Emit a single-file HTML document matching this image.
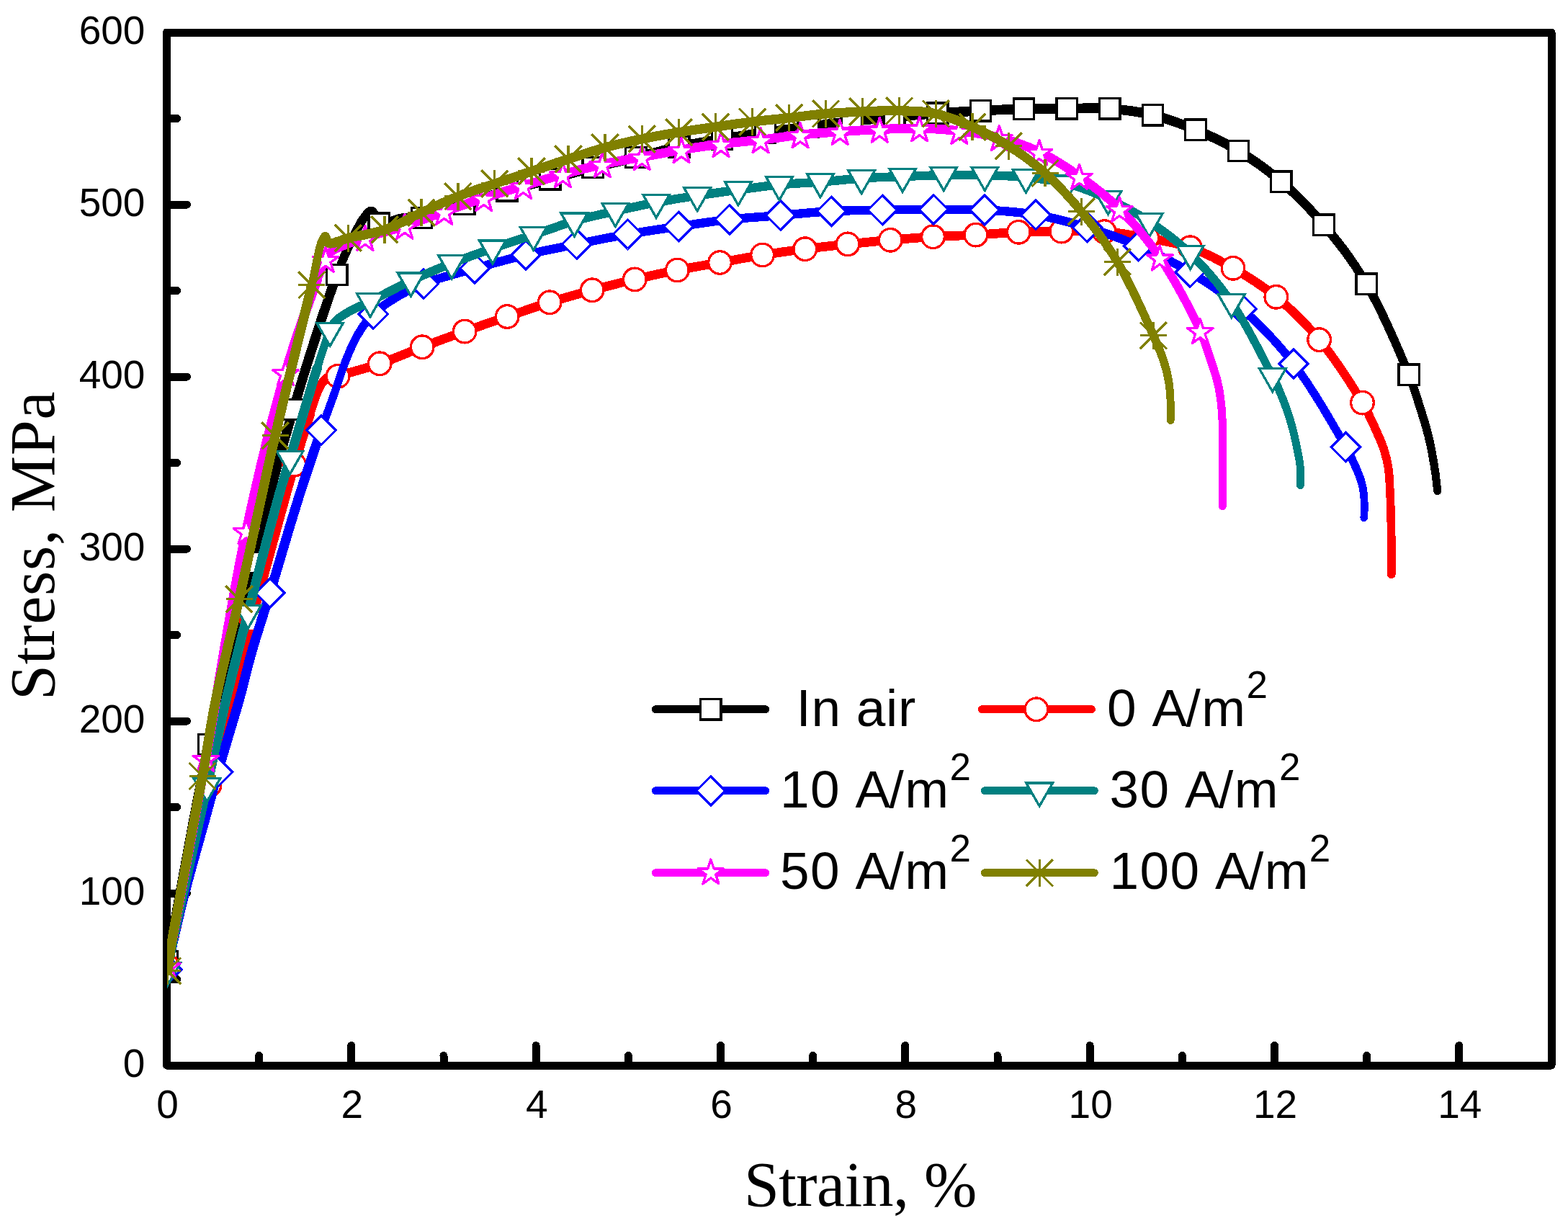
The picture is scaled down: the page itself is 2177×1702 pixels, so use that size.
<!DOCTYPE html>
<html lang="en">
<head>
<meta charset="utf-8">
<title>Stress-strain curves</title>
<style>
html,body{margin:0;padding:0;background:#fff;}
body{width:2177px;height:1702px;overflow:hidden;}
svg{display:block;}
.tk{font-family:"Liberation Sans",sans-serif;font-size:55px;fill:#000;}
.ax{font-family:"Liberation Serif",serif;font-size:88px;fill:#000;}
.axx{letter-spacing:-0.5px;}
.axy{letter-spacing:0.8px;}
.lg{font-family:"Liberation Sans",sans-serif;font-size:73px;fill:#000;letter-spacing:1.35px;}
.sp{font-size:53px;}
</style>
</head>
<body>
<svg width="2177" height="1702" viewBox="0 0 2177 1702" role="img" aria-label="Stress-strain curves">
<rect width="2177" height="1702" fill="#fff"/>
<g fill="none" stroke="#000" stroke-width="11" stroke-linejoin="round" stroke-linecap="round" shape-rendering="crispEdges">
<rect x="231.5" y="45" width="1922.5" height="1434"/>
<path d="M231.5 1359.5h14M231.5 1240h28M231.5 1120.5h14M231.5 1001h28M231.5 881.5h14M231.5 762h28M231.5 642.5h14M231.5 523h28M231.5 403.5h14M231.5 284h28M231.5 164.5h14M359.7 1479v-13.5M487.8 1479v-27.5M616 1479v-13.5M744.2 1479v-27.5M872.3 1479v-13.5M1000.5 1479v-27.5M1128.7 1479v-13.5M1256.8 1479v-27.5M1385 1479v-13.5M1513.2 1479v-27.5M1641.3 1479v-13.5M1769.5 1479v-27.5M1897.7 1479v-13.5M2025.8 1479v-27.5"/>
</g>
<g class="tk" text-anchor="end">
<text x="201.4" y="1495.4">0</text>
<text x="201.4" y="1255.6">100</text>
<text x="201.4" y="1016.6">200</text>
<text x="201.4" y="777.6">300</text>
<text x="201.4" y="538.6">400</text>
<text x="201.4" y="299.6">500</text>
<text x="201.4" y="60.6">600</text>
</g>
<g class="tk" text-anchor="middle">
<text x="232.5" y="1551.8">0</text>
<text x="488.8" y="1551.8">2</text>
<text x="745.2" y="1551.8">4</text>
<text x="1001.5" y="1551.8">6</text>
<text x="1257.8" y="1551.8">8</text>
<text x="1514.2" y="1551.8">10</text>
<text x="1770.5" y="1551.8">12</text>
<text x="2026.8" y="1551.8">14</text>
</g>
<text class="ax axx" text-anchor="middle" x="1194.4" y="1673.9">Strain, %</text>
<text class="ax axy" text-anchor="middle" transform="translate(75.2 757.3) rotate(-90)">Stress, MPa</text>
<svg x="232" y="45" width="1922.5" height="1434" viewBox="232 45 1922.5 1434" overflow="hidden">
<g stroke-linejoin="round" stroke-linecap="round" shape-rendering="crispEdges">
<g fill="none" stroke="#000000" stroke-width="10.9">
<path d="M232.5 1334.7L239.6 1296.9L246.6 1258.9L253.6 1220.7L260.7 1182.6L267.7 1144.7L274.9 1107.2L282.3 1070.2L289.8 1033.9L296.9 1001L304.2 968.5L311.6 936.4L319 904.6L326.6 873.1L334.2 842.1L341.8 811.4L349.5 781L356.5 753.4L363.6 726.1L370.7 699.2L377.8 672.5L385 646.2L392.2 620L399.7 594.1L407.2 568.4L414.7 543.6L422.5 517.9L430.6 492.1L438.7 466.7L446.6 442.3L454.3 419.5L461.4 399L467.8 381.4L470.9 373.2L473.9 365.8L476.7 358.9L479.5 352.5L482.2 346.5L484.8 340.8L487.4 335.4L490 330L491.9 326.1L493.8 322.2L495.7 318.5L497.6 315L499.4 311.6L501.3 308.5L503.1 305.6L505 303L506.3 301.3L507.6 299.7L508.9 298L510.3 296.6L511.6 295.3L512.9 294.3L514.1 293.6L515.2 293.4L516 293.5L516.8 293.9L517.5 294.5L518.3 295.3L519 296.2L519.7 297.1L520.3 298.1L521 299L521.8 300.3L522.5 301.9L523.1 303.6L523.7 305.4L524.4 307.1L525 308.6L525.8 309.8L526.7 310.7L527.4 311.1L528.1 311.3L528.9 311.4L529.7 311.4L530.5 311.4L531.3 311.3L532.1 311.1L533 311L534.1 310.8L535.3 310.5L536.4 310.1L537.6 309.7L538.9 309.2L540.1 308.7L541.4 308.2L542.7 307.8L544.3 307.3L545.8 306.7L547.4 306.1L549.1 305.5L550.8 304.9L552.6 304.4L554.5 303.9L556.5 303.5L559.6 303.1L563 303L566.6 303L570.3 303.1L574.3 303.2L578.3 303.1L582.5 302.8L586.8 302.2L593.2 300.8L600.1 298.8L607.3 296.4L614.7 293.8L622.3 291L629.9 288.2L637.5 285.5L644.9 283L652.2 280.7L659.6 278.4L667 276.1L674.3 273.8L681.7 271.5L689.1 269.3L696.5 267.1L703.9 265L711.3 262.9L718.8 260.9L726.2 258.9L733.7 256.9L741.2 254.9L748.6 253L756.1 251L763.5 249L770.8 247L778.1 245L785.4 242.9L792.6 240.9L799.9 238.9L807.2 236.9L814.5 234.9L821.8 233L829.3 231.1L836.7 229.3L844.3 227.6L851.8 225.9L859.3 224.2L866.9 222.4L874.4 220.7L881.9 218.9L889.4 217L896.8 215.1L904.3 213.2L911.8 211.3L919.2 209.3L926.7 207.5L934.2 205.7L941.7 204L949.3 202.4L956.8 200.9L964.5 199.5L972.1 198.1L979.7 196.8L987.3 195.5L994.9 194.3L1002.5 193L1010 191.8L1017.4 190.6L1024.9 189.4L1032.3 188.3L1039.8 187.2L1047.2 186.1L1054.6 185.1L1062.1 184L1069.5 182.9L1077 181.9L1084.4 180.9L1091.9 179.9L1099.3 178.9L1106.8 177.9L1114.2 177L1121.7 176L1129.1 175L1136.6 174.1L1144 173.1L1151.5 172.1L1158.9 171.2L1166.4 170.3L1173.8 169.4L1181.3 168.5L1188.7 167.7L1196.2 166.9L1203.6 166.1L1211.1 165.4L1218.5 164.6L1226 163.9L1233.4 163.2L1240.9 162.5L1248.3 161.8L1255.8 161.1L1263.2 160.4L1270.7 159.7L1278.1 159.1L1285.6 158.5L1293 157.9L1300.5 157.3L1307.9 156.8L1315.4 156.3L1322.8 155.8L1330.3 155.4L1337.7 155L1345.2 154.6L1352.6 154.2L1360.1 153.8L1367.5 153.4L1375 153.1L1382.4 152.7L1389.9 152.4L1397.3 152L1404.8 151.8L1412.2 151.5L1419.7 151.3L1427.1 151.1L1434.6 151L1442 150.9L1449.5 150.9L1456.9 150.9L1464.4 150.8L1471.8 150.8L1479.3 150.8L1486.8 150.7L1494.2 150.6L1501.7 150.4L1509.1 150.2L1516.6 150.2L1524 150.2L1531.5 150.4L1538.9 150.8L1546.4 151.4L1553.9 152.1L1561.3 152.9L1568.8 153.8L1576.3 154.9L1583.7 156.2L1591.1 157.7L1598.5 159.3L1606 161.2L1613.5 163.3L1621 165.6L1628.5 168.1L1635.9 170.8L1643.3 173.5L1650.7 176.4L1658.1 179.4L1665.6 182.5L1673.2 185.8L1680.7 189.2L1688.2 192.7L1695.6 196.3L1703 200.2L1710.4 204.2L1717.7 208.4L1725.3 213L1732.9 217.9L1740.5 222.9L1747.9 228.1L1755.4 233.5L1762.8 239.2L1770.1 245L1777.3 251L1785 257.7L1792.6 264.6L1800.2 271.8L1807.7 279.2L1815.1 286.8L1822.5 294.7L1829.7 302.7L1836.9 311L1844.7 320.3L1852.4 329.7L1860 339.4L1867.6 349.4L1875 359.7L1882.3 370.4L1889.5 381.5L1896.5 393L1904.8 407.8L1913.2 424L1921.6 441.2L1929.7 458.7L1937.4 475.9L1944.5 492.3L1950.8 507.3L1956.1 520.2L1958.6 526.5L1960.7 532.3L1962.6 537.7L1964.3 542.8L1965.9 547.7L1967.4 552.5L1969 557.5L1970.6 562.7L1972.3 568L1974 573.3L1975.6 578.6L1977.3 583.9L1978.8 589.2L1980.4 594.5L1981.8 599.9L1983.2 605.3L1984.5 610.9L1985.8 616.6L1987 622.4L1988.1 628.2L1989.1 634L1990.1 639.6L1991.1 645.1L1991.9 650.3L1992.5 654.3L1993.1 658.2L1993.5 662L1994 665.7L1994.4 669.4L1994.8 673L1995.2 676.7L1995.7 680.4"/>
<path transform="translate(0 1.4)" d="M232.5 1334.7L239.6 1296.9L246.6 1258.9L253.6 1220.7L260.7 1182.6L267.7 1144.7L274.9 1107.2L282.3 1070.2L289.8 1033.9L296.9 1001L304.2 968.5L311.6 936.4L319 904.6L326.6 873.1L334.2 842.1L341.8 811.4L349.5 781L356.5 753.4L363.6 726.1L370.7 699.2L377.8 672.5L385 646.2L392.2 620L399.7 594.1L407.2 568.4L414.7 543.6L422.5 517.9L430.6 492.1L438.7 466.7L446.6 442.3L454.3 419.5L461.4 399L467.8 381.4L470.9 373.2L473.9 365.8L476.7 358.9L479.5 352.5L482.2 346.5L484.8 340.8L487.4 335.4L490 330L491.9 326.1L493.8 322.2L495.7 318.5L497.6 315L499.4 311.6L501.3 308.5L503.1 305.6L505 303L506.3 301.3L507.6 299.7L508.9 298L510.3 296.6L511.6 295.3L512.9 294.3L514.1 293.6L515.2 293.4L516 293.5L516.8 293.9L517.5 294.5L518.3 295.3L519 296.2L519.7 297.1L520.3 298.1L521 299L521.8 300.3L522.5 301.9L523.1 303.6L523.7 305.4L524.4 307.1L525 308.6L525.8 309.8L526.7 310.7L527.4 311.1L528.1 311.3L528.9 311.4L529.7 311.4L530.5 311.4L531.3 311.3L532.1 311.1L533 311L534.1 310.8L535.3 310.5L536.4 310.1L537.6 309.7L538.9 309.2L540.1 308.7L541.4 308.2L542.7 307.8L544.3 307.3L545.8 306.7L547.4 306.1L549.1 305.5L550.8 304.9L552.6 304.4L554.5 303.9L556.5 303.5L559.6 303.1L563 303L566.6 303L570.3 303.1L574.3 303.2L578.3 303.1L582.5 302.8L586.8 302.2L593.2 300.8L600.1 298.8L607.3 296.4L614.7 293.8L622.3 291L629.9 288.2L637.5 285.5L644.9 283L652.2 280.7L659.6 278.4L667 276.1L674.3 273.8L681.7 271.5L689.1 269.3L696.5 267.1L703.9 265L711.3 262.9L718.8 260.9L726.2 258.9L733.7 256.9L741.2 254.9L748.6 253L756.1 251L763.5 249L770.8 247L778.1 245L785.4 242.9L792.6 240.9L799.9 238.9L807.2 236.9L814.5 234.9L821.8 233L829.3 231.1L836.7 229.3L844.3 227.6L851.8 225.9L859.3 224.2L866.9 222.4L874.4 220.7L881.9 218.9L889.4 217L896.8 215.1L904.3 213.2L911.8 211.3L919.2 209.3L926.7 207.5L934.2 205.7L941.7 204L949.3 202.4L956.8 200.9L964.5 199.5L972.1 198.1L979.7 196.8L987.3 195.5L994.9 194.3L1002.5 193L1010 191.8L1017.4 190.6L1024.9 189.4L1032.3 188.3L1039.8 187.2L1047.2 186.1L1054.6 185.1L1062.1 184L1069.5 182.9L1077 181.9L1084.4 180.9L1091.9 179.9L1099.3 178.9L1106.8 177.9L1114.2 177L1121.7 176L1129.1 175L1136.6 174.1L1144 173.1L1151.5 172.1L1158.9 171.2L1166.4 170.3L1173.8 169.4L1181.3 168.5L1188.7 167.7L1196.2 166.9L1203.6 166.1L1211.1 165.4L1218.5 164.6L1226 163.9L1233.4 163.2L1240.9 162.5L1248.3 161.8L1255.8 161.1L1263.2 160.4L1270.7 159.7L1278.1 159.1L1285.6 158.5L1293 157.9L1300.5 157.3L1307.9 156.8L1315.4 156.3L1322.8 155.8L1330.3 155.4L1337.7 155L1345.2 154.6L1352.6 154.2L1360.1 153.8L1367.5 153.4L1375 153.1L1382.4 152.7L1389.9 152.4L1397.3 152L1404.8 151.8L1412.2 151.5L1419.7 151.3L1427.1 151.1L1434.6 151L1442 150.9L1449.5 150.9L1456.9 150.9L1464.4 150.8L1471.8 150.8L1479.3 150.8L1486.8 150.7L1494.2 150.6L1501.7 150.4L1509.1 150.2L1516.6 150.2L1524 150.2L1531.5 150.4L1538.9 150.8L1546.4 151.4L1553.9 152.1L1561.3 152.9L1568.8 153.8L1576.3 154.9L1583.7 156.2L1591.1 157.7L1598.5 159.3L1606 161.2L1613.5 163.3L1621 165.6L1628.5 168.1L1635.9 170.8L1643.3 173.5L1650.7 176.4L1658.1 179.4L1665.6 182.5L1673.2 185.8L1680.7 189.2L1688.2 192.7L1695.6 196.3L1703 200.2L1710.4 204.2L1717.7 208.4L1725.3 213L1732.9 217.9L1740.5 222.9L1747.9 228.1L1755.4 233.5L1762.8 239.2L1770.1 245L1777.3 251L1785 257.7L1792.6 264.6L1800.2 271.8L1807.7 279.2L1815.1 286.8L1822.5 294.7L1829.7 302.7L1836.9 311L1844.7 320.3L1852.4 329.7L1860 339.4L1867.6 349.4L1875 359.7L1882.3 370.4L1889.5 381.5L1896.5 393L1904.8 407.8L1913.2 424L1921.6 441.2L1929.7 458.7L1937.4 475.9L1944.5 492.3L1950.8 507.3L1956.1 520.2L1958.6 526.5L1960.7 532.3L1962.6 537.7L1964.3 542.8L1965.9 547.7L1967.4 552.5L1969 557.5L1970.6 562.7L1972.3 568L1974 573.3L1975.6 578.6L1977.3 583.9L1978.8 589.2L1980.4 594.5L1981.8 599.9L1983.2 605.3L1984.5 610.9L1985.8 616.6L1987 622.4L1988.1 628.2L1989.1 634L1990.1 639.6L1991.1 645.1L1991.9 650.3L1992.5 654.3L1993.1 658.2L1993.5 662L1994 665.7L1994.4 669.4L1994.8 673L1995.2 676.7L1995.7 680.4"/>
<path transform="translate(0 -1.4)" d="M232.5 1334.7L239.6 1296.9L246.6 1258.9L253.6 1220.7L260.7 1182.6L267.7 1144.7L274.9 1107.2L282.3 1070.2L289.8 1033.9L296.9 1001L304.2 968.5L311.6 936.4L319 904.6L326.6 873.1L334.2 842.1L341.8 811.4L349.5 781L356.5 753.4L363.6 726.1L370.7 699.2L377.8 672.5L385 646.2L392.2 620L399.7 594.1L407.2 568.4L414.7 543.6L422.5 517.9L430.6 492.1L438.7 466.7L446.6 442.3L454.3 419.5L461.4 399L467.8 381.4L470.9 373.2L473.9 365.8L476.7 358.9L479.5 352.5L482.2 346.5L484.8 340.8L487.4 335.4L490 330L491.9 326.1L493.8 322.2L495.7 318.5L497.6 315L499.4 311.6L501.3 308.5L503.1 305.6L505 303L506.3 301.3L507.6 299.7L508.9 298L510.3 296.6L511.6 295.3L512.9 294.3L514.1 293.6L515.2 293.4L516 293.5L516.8 293.9L517.5 294.5L518.3 295.3L519 296.2L519.7 297.1L520.3 298.1L521 299L521.8 300.3L522.5 301.9L523.1 303.6L523.7 305.4L524.4 307.1L525 308.6L525.8 309.8L526.7 310.7L527.4 311.1L528.1 311.3L528.9 311.4L529.7 311.4L530.5 311.4L531.3 311.3L532.1 311.1L533 311L534.1 310.8L535.3 310.5L536.4 310.1L537.6 309.7L538.9 309.2L540.1 308.7L541.4 308.2L542.7 307.8L544.3 307.3L545.8 306.7L547.4 306.1L549.1 305.5L550.8 304.9L552.6 304.4L554.5 303.9L556.5 303.5L559.6 303.1L563 303L566.6 303L570.3 303.1L574.3 303.2L578.3 303.1L582.5 302.8L586.8 302.2L593.2 300.8L600.1 298.8L607.3 296.4L614.7 293.8L622.3 291L629.9 288.2L637.5 285.5L644.9 283L652.2 280.7L659.6 278.4L667 276.1L674.3 273.8L681.7 271.5L689.1 269.3L696.5 267.1L703.9 265L711.3 262.9L718.8 260.9L726.2 258.9L733.7 256.9L741.2 254.9L748.6 253L756.1 251L763.5 249L770.8 247L778.1 245L785.4 242.9L792.6 240.9L799.9 238.9L807.2 236.9L814.5 234.9L821.8 233L829.3 231.1L836.7 229.3L844.3 227.6L851.8 225.9L859.3 224.2L866.9 222.4L874.4 220.7L881.9 218.9L889.4 217L896.8 215.1L904.3 213.2L911.8 211.3L919.2 209.3L926.7 207.5L934.2 205.7L941.7 204L949.3 202.4L956.8 200.9L964.5 199.5L972.1 198.1L979.7 196.8L987.3 195.5L994.9 194.3L1002.5 193L1010 191.8L1017.4 190.6L1024.9 189.4L1032.3 188.3L1039.8 187.2L1047.2 186.1L1054.6 185.1L1062.1 184L1069.5 182.9L1077 181.9L1084.4 180.9L1091.9 179.9L1099.3 178.9L1106.8 177.9L1114.2 177L1121.7 176L1129.1 175L1136.6 174.1L1144 173.1L1151.5 172.1L1158.9 171.2L1166.4 170.3L1173.8 169.4L1181.3 168.5L1188.7 167.7L1196.2 166.9L1203.6 166.1L1211.1 165.4L1218.5 164.6L1226 163.9L1233.4 163.2L1240.9 162.5L1248.3 161.8L1255.8 161.1L1263.2 160.4L1270.7 159.7L1278.1 159.1L1285.6 158.5L1293 157.9L1300.5 157.3L1307.9 156.8L1315.4 156.3L1322.8 155.8L1330.3 155.4L1337.7 155L1345.2 154.6L1352.6 154.2L1360.1 153.8L1367.5 153.4L1375 153.1L1382.4 152.7L1389.9 152.4L1397.3 152L1404.8 151.8L1412.2 151.5L1419.7 151.3L1427.1 151.1L1434.6 151L1442 150.9L1449.5 150.9L1456.9 150.9L1464.4 150.8L1471.8 150.8L1479.3 150.8L1486.8 150.7L1494.2 150.6L1501.7 150.4L1509.1 150.2L1516.6 150.2L1524 150.2L1531.5 150.4L1538.9 150.8L1546.4 151.4L1553.9 152.1L1561.3 152.9L1568.8 153.8L1576.3 154.9L1583.7 156.2L1591.1 157.7L1598.5 159.3L1606 161.2L1613.5 163.3L1621 165.6L1628.5 168.1L1635.9 170.8L1643.3 173.5L1650.7 176.4L1658.1 179.4L1665.6 182.5L1673.2 185.8L1680.7 189.2L1688.2 192.7L1695.6 196.3L1703 200.2L1710.4 204.2L1717.7 208.4L1725.3 213L1732.9 217.9L1740.5 222.9L1747.9 228.1L1755.4 233.5L1762.8 239.2L1770.1 245L1777.3 251L1785 257.7L1792.6 264.6L1800.2 271.8L1807.7 279.2L1815.1 286.8L1822.5 294.7L1829.7 302.7L1836.9 311L1844.7 320.3L1852.4 329.7L1860 339.4L1867.6 349.4L1875 359.7L1882.3 370.4L1889.5 381.5L1896.5 393L1904.8 407.8L1913.2 424L1921.6 441.2L1929.7 458.7L1937.4 475.9L1944.5 492.3L1950.8 507.3L1956.1 520.2L1958.6 526.5L1960.7 532.3L1962.6 537.7L1964.3 542.8L1965.9 547.7L1967.4 552.5L1969 557.5L1970.6 562.7L1972.3 568L1974 573.3L1975.6 578.6L1977.3 583.9L1978.8 589.2L1980.4 594.5L1981.8 599.9L1983.2 605.3L1984.5 610.9L1985.8 616.6L1987 622.4L1988.1 628.2L1989.1 634L1990.1 639.6L1991.1 645.1L1991.9 650.3L1992.5 654.3L1993.1 658.2L1993.5 662L1994 665.7L1994.4 669.4L1994.8 673L1995.2 676.7L1995.7 680.4"/>
</g>
<path d="M232.5 1334.7L239.6 1296.9L246.6 1258.9L253.6 1220.7L260.7 1182.6L267.7 1144.7L274.9 1107.2L282.3 1070.2L289.8 1033.9L296.9 1001L304.2 968.5L311.6 936.4L319 904.6L326.6 873.1L334.2 842.1L341.8 811.4L349.5 781L356.5 753.4L363.6 726.1L370.7 699.2L377.8 672.5L385 646.2L392.2 620L399.7 594.1L407.2 568.4L414.7 543.6L422.5 517.9L430.6 492.1L438.7 466.7L446.6 442.3L454.3 419.5L461.4 399L467.8 381.4" fill="none" stroke="#000000" stroke-width="13.4"/>
<g stroke-linejoin="miter" stroke-linecap="butt">
<rect x="218.3" y="1320.5" width="28.4" height="28.4" fill="#fff" stroke="#000000" stroke-width="3.3"/>
<rect x="275.6" y="1019.7" width="28.4" height="28.4" fill="#fff" stroke="#000000" stroke-width="3.3"/>
<rect x="335.3" y="766.8" width="28.4" height="28.4" fill="#fff" stroke="#000000" stroke-width="3.3"/>
<rect x="393" y="554.2" width="28.4" height="28.4" fill="#fff" stroke="#000000" stroke-width="3.3"/>
<rect x="453.6" y="367.2" width="28.4" height="28.4" fill="#fff" stroke="#000000" stroke-width="3.3"/>
<rect x="512" y="296" width="28.4" height="28.4" fill="#fff" stroke="#000000" stroke-width="3.3"/>
<rect x="571.2" y="288.2" width="28.4" height="28.4" fill="#fff" stroke="#000000" stroke-width="3.3"/>
<rect x="630.6" y="268.8" width="28.4" height="28.4" fill="#fff" stroke="#000000" stroke-width="3.3"/>
<rect x="690" y="250.7" width="28.4" height="28.4" fill="#fff" stroke="#000000" stroke-width="3.3"/>
<rect x="749.5" y="234.7" width="28.4" height="28.4" fill="#fff" stroke="#000000" stroke-width="3.3"/>
<rect x="809.1" y="218.4" width="28.4" height="28.4" fill="#fff" stroke="#000000" stroke-width="3.3"/>
<rect x="868.8" y="204.4" width="28.4" height="28.4" fill="#fff" stroke="#000000" stroke-width="3.3"/>
<rect x="928.6" y="189.6" width="28.4" height="28.4" fill="#fff" stroke="#000000" stroke-width="3.3"/>
<rect x="988.3" y="178.8" width="28.4" height="28.4" fill="#fff" stroke="#000000" stroke-width="3.3"/>
<rect x="1048.2" y="169.8" width="28.4" height="28.4" fill="#fff" stroke="#000000" stroke-width="3.3"/>
<rect x="1108" y="161.7" width="28.4" height="28.4" fill="#fff" stroke="#000000" stroke-width="3.3"/>
<rect x="1167.9" y="154.2" width="28.4" height="28.4" fill="#fff" stroke="#000000" stroke-width="3.3"/>
<rect x="1227.7" y="148.2" width="28.4" height="28.4" fill="#fff" stroke="#000000" stroke-width="3.3"/>
<rect x="1287.6" y="143" width="28.4" height="28.4" fill="#fff" stroke="#000000" stroke-width="3.3"/>
<rect x="1347.4" y="139.5" width="28.4" height="28.4" fill="#fff" stroke="#000000" stroke-width="3.3"/>
<rect x="1407.2" y="137.1" width="28.4" height="28.4" fill="#fff" stroke="#000000" stroke-width="3.3"/>
<rect x="1466.9" y="136.6" width="28.4" height="28.4" fill="#fff" stroke="#000000" stroke-width="3.3"/>
<rect x="1526.6" y="136.7" width="28.4" height="28.4" fill="#fff" stroke="#000000" stroke-width="3.3"/>
<rect x="1586.2" y="145.6" width="28.4" height="28.4" fill="#fff" stroke="#000000" stroke-width="3.3"/>
<rect x="1645.8" y="166" width="28.4" height="28.4" fill="#fff" stroke="#000000" stroke-width="3.3"/>
<rect x="1705.2" y="195.3" width="28.4" height="28.4" fill="#fff" stroke="#000000" stroke-width="3.3"/>
<rect x="1764.6" y="238.1" width="28.4" height="28.4" fill="#fff" stroke="#000000" stroke-width="3.3"/>
<rect x="1823.8" y="298.1" width="28.4" height="28.4" fill="#fff" stroke="#000000" stroke-width="3.3"/>
<rect x="1882.9" y="380" width="28.4" height="28.4" fill="#fff" stroke="#000000" stroke-width="3.3"/>
<rect x="1941.9" y="506.1" width="28.4" height="28.4" fill="#fff" stroke="#000000" stroke-width="3.3"/>
</g>
<g fill="none" stroke="#ff0000" stroke-width="11.6">
<path d="M232.5 1341L239.9 1309L247.6 1276.1L255.3 1242.9L263 1209.9L270.5 1177.5L277.8 1146.4L284.6 1117.1L291 1090L295.1 1072.5L299.1 1055.6L302.9 1039.5L306.6 1024.1L310.2 1009.3L313.6 995.1L316.9 981.6L320.1 968.6L322.3 959.7L324.5 951.3L326.6 943.2L328.6 935.4L330.6 927.8L332.5 920.5L334.5 913.2L336.4 906L338 900.1L339.5 894.7L341 889.5L342.4 884.3L343.9 879L345.6 873.4L347.3 867.1L349.3 860L353.9 843.4L359.4 823.2L365.6 800.6L372.2 776.7L378.7 752.8L385 730.1L390.6 709.7L395.2 693L397.2 685.7L399 679.2L400.7 673.3L402.2 667.8L403.7 662.5L405.2 657.1L406.9 651.4L408.7 645.2L411.1 637L413.7 628.2L416.4 619.1L419.2 609.9L422.1 600.7L424.9 591.8L427.6 583.3L430.2 575.4L432.1 569.6L434 563.9L435.8 558.2L437.6 552.8L439.4 547.6L441.3 542.9L443.2 538.7L445.2 535L446.4 533.1L447.5 531.4L448.7 529.8L449.9 528.4L451.1 527.1L452.4 525.9L453.7 524.9L455.2 524L456.7 523.3L458.2 522.9L459.7 522.6L461.3 522.5L463 522.3L464.9 522.2L466.9 521.9L469.1 521.5L474.5 520.2L480.9 518.6L488 516.6L495.7 514.5L503.8 512.2L511.8 509.8L519.8 507.3L527.3 504.8L534.7 502.2L542.1 499.4L549.6 496.5L557 493.5L564.4 490.5L571.8 487.5L579.2 484.5L586.6 481.6L594 478.8L601.4 476L608.9 473.3L616.3 470.5L623.7 467.8L631.2 465.1L638.6 462.5L646 459.8L653.3 457.2L660.6 454.6L667.9 452.1L675.1 449.5L682.4 447L689.7 444.5L697 442L704.3 439.5L711.7 437L719.1 434.4L726.5 431.9L733.9 429.4L741.3 426.9L748.7 424.4L756.2 422L763.6 419.7L771 417.4L778.4 415.2L785.7 413L793.1 410.9L800.5 408.8L807.9 406.7L815.3 404.7L822.7 402.7L830 400.7L837.4 398.8L844.7 396.9L852 395.1L859.3 393.2L866.7 391.4L874 389.6L881.4 387.9L888.8 386.2L896.2 384.5L903.6 382.8L911 381.1L918.5 379.5L925.9 377.9L933.3 376.4L940.7 374.9L948 373.5L955.3 372.2L962.6 370.9L969.8 369.6L977.1 368.4L984.4 367.1L991.7 365.9L999 364.6L1006.3 363.3L1013.7 361.9L1021.1 360.6L1028.4 359.2L1035.8 357.9L1043.2 356.6L1050.5 355.3L1057.9 354.1L1065.2 352.9L1072.6 351.8L1079.9 350.8L1087.3 349.7L1094.6 348.7L1102 347.7L1109.3 346.7L1116.7 345.8L1124 344.9L1131.4 344L1138.7 343.1L1146 342.3L1153.4 341.5L1160.7 340.7L1168.1 339.9L1175.5 339.1L1183 338.3L1190.6 337.6L1198.2 336.8L1205.8 336.1L1213.4 335.3L1221 334.6L1228.6 334L1236.1 333.3L1243.5 332.7L1250.9 332L1258.3 331.4L1265.7 330.8L1273 330.2L1280.4 329.7L1287.8 329.2L1295.2 328.7L1302.7 328.3L1310.1 327.9L1317.6 327.6L1325.1 327.3L1332.6 327.1L1340.1 326.8L1347.6 326.5L1355.1 326.1L1362.5 325.7L1370 325.2L1377.4 324.6L1384.8 324.1L1392.2 323.6L1399.6 323.1L1407.1 322.7L1414.5 322.3L1421.9 322L1429.4 321.8L1436.9 321.6L1444.3 321.4L1451.8 321.3L1459.2 321.2L1466.7 321.2L1474.1 321.1L1481.5 321L1488.8 320.9L1496.2 320.8L1503.5 320.7L1510.8 320.8L1518.2 320.9L1525.5 321.1L1532.9 321.6L1540.4 322.3L1547.9 323.1L1555.4 324L1562.9 325.1L1570.5 326.3L1578 327.6L1585.5 328.9L1593 330.3L1600.6 331.7L1608.2 333.1L1615.9 334.5L1623.5 336L1631.1 337.7L1638.7 339.6L1646.2 341.7L1653.6 344.1L1661.2 346.9L1668.7 350L1676.2 353.4L1683.7 357L1691.1 360.8L1698.5 364.7L1705.8 368.7L1713.1 372.9L1720.7 377.3L1728.3 381.9L1735.9 386.6L1743.4 391.5L1750.9 396.6L1758.3 401.9L1765.6 407.4L1772.8 413.1L1780.4 419.5L1787.9 426L1795.3 432.9L1802.6 439.9L1809.8 447.2L1817 454.8L1824 462.7L1831 470.8L1838.9 480.6L1847 491.3L1855.1 502.5L1863 513.9L1870.5 525.3L1877.7 536.4L1884.2 546.9L1890 556.5L1893.5 562.6L1896.7 568.6L1899.7 574.3L1902.4 579.9L1905 585.3L1907.4 590.5L1909.6 595.5L1911.8 600.3L1913.3 603.7L1914.8 607L1916.1 610.1L1917.4 613.2L1918.6 616.2L1919.7 619.2L1920.8 622.2L1921.8 625.3L1922.7 628.4L1923.6 631.5L1924.4 634.5L1925.2 637.6L1925.9 640.7L1926.5 643.9L1927.1 647.1L1927.6 650.3L1928.1 653.9L1928.5 657.7L1928.8 661.5L1929 665.3L1929.3 669.1L1929.4 672.9L1929.6 676.5L1929.8 680L1929.9 682.7L1930.1 685.2L1930.2 687.5L1930.3 689.9L1930.3 692.3L1930.4 694.8L1930.5 697.4L1930.6 700.4L1930.8 705.6L1930.9 711.4L1931.1 717.7L1931.3 724.2L1931.4 730.9L1931.6 737.6L1931.7 744.2L1931.8 750.5L1931.9 756.4L1931.9 762.2L1931.9 768L1931.9 773.8L1931.8 779.5L1931.8 785.3L1931.8 791L1931.8 796.8"/>
<path transform="translate(0 0.6)" d="M232.5 1341L239.9 1309L247.6 1276.1L255.3 1242.9L263 1209.9L270.5 1177.5L277.8 1146.4L284.6 1117.1L291 1090L295.1 1072.5L299.1 1055.6L302.9 1039.5L306.6 1024.1L310.2 1009.3L313.6 995.1L316.9 981.6L320.1 968.6L322.3 959.7L324.5 951.3L326.6 943.2L328.6 935.4L330.6 927.8L332.5 920.5L334.5 913.2L336.4 906L338 900.1L339.5 894.7L341 889.5L342.4 884.3L343.9 879L345.6 873.4L347.3 867.1L349.3 860L353.9 843.4L359.4 823.2L365.6 800.6L372.2 776.7L378.7 752.8L385 730.1L390.6 709.7L395.2 693L397.2 685.7L399 679.2L400.7 673.3L402.2 667.8L403.7 662.5L405.2 657.1L406.9 651.4L408.7 645.2L411.1 637L413.7 628.2L416.4 619.1L419.2 609.9L422.1 600.7L424.9 591.8L427.6 583.3L430.2 575.4L432.1 569.6L434 563.9L435.8 558.2L437.6 552.8L439.4 547.6L441.3 542.9L443.2 538.7L445.2 535L446.4 533.1L447.5 531.4L448.7 529.8L449.9 528.4L451.1 527.1L452.4 525.9L453.7 524.9L455.2 524L456.7 523.3L458.2 522.9L459.7 522.6L461.3 522.5L463 522.3L464.9 522.2L466.9 521.9L469.1 521.5L474.5 520.2L480.9 518.6L488 516.6L495.7 514.5L503.8 512.2L511.8 509.8L519.8 507.3L527.3 504.8L534.7 502.2L542.1 499.4L549.6 496.5L557 493.5L564.4 490.5L571.8 487.5L579.2 484.5L586.6 481.6L594 478.8L601.4 476L608.9 473.3L616.3 470.5L623.7 467.8L631.2 465.1L638.6 462.5L646 459.8L653.3 457.2L660.6 454.6L667.9 452.1L675.1 449.5L682.4 447L689.7 444.5L697 442L704.3 439.5L711.7 437L719.1 434.4L726.5 431.9L733.9 429.4L741.3 426.9L748.7 424.4L756.2 422L763.6 419.7L771 417.4L778.4 415.2L785.7 413L793.1 410.9L800.5 408.8L807.9 406.7L815.3 404.7L822.7 402.7L830 400.7L837.4 398.8L844.7 396.9L852 395.1L859.3 393.2L866.7 391.4L874 389.6L881.4 387.9L888.8 386.2L896.2 384.5L903.6 382.8L911 381.1L918.5 379.5L925.9 377.9L933.3 376.4L940.7 374.9L948 373.5L955.3 372.2L962.6 370.9L969.8 369.6L977.1 368.4L984.4 367.1L991.7 365.9L999 364.6L1006.3 363.3L1013.7 361.9L1021.1 360.6L1028.4 359.2L1035.8 357.9L1043.2 356.6L1050.5 355.3L1057.9 354.1L1065.2 352.9L1072.6 351.8L1079.9 350.8L1087.3 349.7L1094.6 348.7L1102 347.7L1109.3 346.7L1116.7 345.8L1124 344.9L1131.4 344L1138.7 343.1L1146 342.3L1153.4 341.5L1160.7 340.7L1168.1 339.9L1175.5 339.1L1183 338.3L1190.6 337.6L1198.2 336.8L1205.8 336.1L1213.4 335.3L1221 334.6L1228.6 334L1236.1 333.3L1243.5 332.7L1250.9 332L1258.3 331.4L1265.7 330.8L1273 330.2L1280.4 329.7L1287.8 329.2L1295.2 328.7L1302.7 328.3L1310.1 327.9L1317.6 327.6L1325.1 327.3L1332.6 327.1L1340.1 326.8L1347.6 326.5L1355.1 326.1L1362.5 325.7L1370 325.2L1377.4 324.6L1384.8 324.1L1392.2 323.6L1399.6 323.1L1407.1 322.7L1414.5 322.3L1421.9 322L1429.4 321.8L1436.9 321.6L1444.3 321.4L1451.8 321.3L1459.2 321.2L1466.7 321.2L1474.1 321.1L1481.5 321L1488.8 320.9L1496.2 320.8L1503.5 320.7L1510.8 320.8L1518.2 320.9L1525.5 321.1L1532.9 321.6L1540.4 322.3L1547.9 323.1L1555.4 324L1562.9 325.1L1570.5 326.3L1578 327.6L1585.5 328.9L1593 330.3L1600.6 331.7L1608.2 333.1L1615.9 334.5L1623.5 336L1631.1 337.7L1638.7 339.6L1646.2 341.7L1653.6 344.1L1661.2 346.9L1668.7 350L1676.2 353.4L1683.7 357L1691.1 360.8L1698.5 364.7L1705.8 368.7L1713.1 372.9L1720.7 377.3L1728.3 381.9L1735.9 386.6L1743.4 391.5L1750.9 396.6L1758.3 401.9L1765.6 407.4L1772.8 413.1L1780.4 419.5L1787.9 426L1795.3 432.9L1802.6 439.9L1809.8 447.2L1817 454.8L1824 462.7L1831 470.8L1838.9 480.6L1847 491.3L1855.1 502.5L1863 513.9L1870.5 525.3L1877.7 536.4L1884.2 546.9L1890 556.5L1893.5 562.6L1896.7 568.6L1899.7 574.3L1902.4 579.9L1905 585.3L1907.4 590.5L1909.6 595.5L1911.8 600.3L1913.3 603.7L1914.8 607L1916.1 610.1L1917.4 613.2L1918.6 616.2L1919.7 619.2L1920.8 622.2L1921.8 625.3L1922.7 628.4L1923.6 631.5L1924.4 634.5L1925.2 637.6L1925.9 640.7L1926.5 643.9L1927.1 647.1L1927.6 650.3L1928.1 653.9L1928.5 657.7L1928.8 661.5L1929 665.3L1929.3 669.1L1929.4 672.9L1929.6 676.5L1929.8 680L1929.9 682.7L1930.1 685.2L1930.2 687.5L1930.3 689.9L1930.3 692.3L1930.4 694.8L1930.5 697.4L1930.6 700.4L1930.8 705.6L1930.9 711.4L1931.1 717.7L1931.3 724.2L1931.4 730.9L1931.6 737.6L1931.7 744.2L1931.8 750.5L1931.9 756.4L1931.9 762.2L1931.9 768L1931.9 773.8L1931.8 779.5L1931.8 785.3L1931.8 791L1931.8 796.8"/>
<path transform="translate(0 -0.6)" d="M232.5 1341L239.9 1309L247.6 1276.1L255.3 1242.9L263 1209.9L270.5 1177.5L277.8 1146.4L284.6 1117.1L291 1090L295.1 1072.5L299.1 1055.6L302.9 1039.5L306.6 1024.1L310.2 1009.3L313.6 995.1L316.9 981.6L320.1 968.6L322.3 959.7L324.5 951.3L326.6 943.2L328.6 935.4L330.6 927.8L332.5 920.5L334.5 913.2L336.4 906L338 900.1L339.5 894.7L341 889.5L342.4 884.3L343.9 879L345.6 873.4L347.3 867.1L349.3 860L353.9 843.4L359.4 823.2L365.6 800.6L372.2 776.7L378.7 752.8L385 730.1L390.6 709.7L395.2 693L397.2 685.7L399 679.2L400.7 673.3L402.2 667.8L403.7 662.5L405.2 657.1L406.9 651.4L408.7 645.2L411.1 637L413.7 628.2L416.4 619.1L419.2 609.9L422.1 600.7L424.9 591.8L427.6 583.3L430.2 575.4L432.1 569.6L434 563.9L435.8 558.2L437.6 552.8L439.4 547.6L441.3 542.9L443.2 538.7L445.2 535L446.4 533.1L447.5 531.4L448.7 529.8L449.9 528.4L451.1 527.1L452.4 525.9L453.7 524.9L455.2 524L456.7 523.3L458.2 522.9L459.7 522.6L461.3 522.5L463 522.3L464.9 522.2L466.9 521.9L469.1 521.5L474.5 520.2L480.9 518.6L488 516.6L495.7 514.5L503.8 512.2L511.8 509.8L519.8 507.3L527.3 504.8L534.7 502.2L542.1 499.4L549.6 496.5L557 493.5L564.4 490.5L571.8 487.5L579.2 484.5L586.6 481.6L594 478.8L601.4 476L608.9 473.3L616.3 470.5L623.7 467.8L631.2 465.1L638.6 462.5L646 459.8L653.3 457.2L660.6 454.6L667.9 452.1L675.1 449.5L682.4 447L689.7 444.5L697 442L704.3 439.5L711.7 437L719.1 434.4L726.5 431.9L733.9 429.4L741.3 426.9L748.7 424.4L756.2 422L763.6 419.7L771 417.4L778.4 415.2L785.7 413L793.1 410.9L800.5 408.8L807.9 406.7L815.3 404.7L822.7 402.7L830 400.7L837.4 398.8L844.7 396.9L852 395.1L859.3 393.2L866.7 391.4L874 389.6L881.4 387.9L888.8 386.2L896.2 384.5L903.6 382.8L911 381.1L918.5 379.5L925.9 377.9L933.3 376.4L940.7 374.9L948 373.5L955.3 372.2L962.6 370.9L969.8 369.6L977.1 368.4L984.4 367.1L991.7 365.9L999 364.6L1006.3 363.3L1013.7 361.9L1021.1 360.6L1028.4 359.2L1035.8 357.9L1043.2 356.6L1050.5 355.3L1057.9 354.1L1065.2 352.9L1072.6 351.8L1079.9 350.8L1087.3 349.7L1094.6 348.7L1102 347.7L1109.3 346.7L1116.7 345.8L1124 344.9L1131.4 344L1138.7 343.1L1146 342.3L1153.4 341.5L1160.7 340.7L1168.1 339.9L1175.5 339.1L1183 338.3L1190.6 337.6L1198.2 336.8L1205.8 336.1L1213.4 335.3L1221 334.6L1228.6 334L1236.1 333.3L1243.5 332.7L1250.9 332L1258.3 331.4L1265.7 330.8L1273 330.2L1280.4 329.7L1287.8 329.2L1295.2 328.7L1302.7 328.3L1310.1 327.9L1317.6 327.6L1325.1 327.3L1332.6 327.1L1340.1 326.8L1347.6 326.5L1355.1 326.1L1362.5 325.7L1370 325.2L1377.4 324.6L1384.8 324.1L1392.2 323.6L1399.6 323.1L1407.1 322.7L1414.5 322.3L1421.9 322L1429.4 321.8L1436.9 321.6L1444.3 321.4L1451.8 321.3L1459.2 321.2L1466.7 321.2L1474.1 321.1L1481.5 321L1488.8 320.9L1496.2 320.8L1503.5 320.7L1510.8 320.8L1518.2 320.9L1525.5 321.1L1532.9 321.6L1540.4 322.3L1547.9 323.1L1555.4 324L1562.9 325.1L1570.5 326.3L1578 327.6L1585.5 328.9L1593 330.3L1600.6 331.7L1608.2 333.1L1615.9 334.5L1623.5 336L1631.1 337.7L1638.7 339.6L1646.2 341.7L1653.6 344.1L1661.2 346.9L1668.7 350L1676.2 353.4L1683.7 357L1691.1 360.8L1698.5 364.7L1705.8 368.7L1713.1 372.9L1720.7 377.3L1728.3 381.9L1735.9 386.6L1743.4 391.5L1750.9 396.6L1758.3 401.9L1765.6 407.4L1772.8 413.1L1780.4 419.5L1787.9 426L1795.3 432.9L1802.6 439.9L1809.8 447.2L1817 454.8L1824 462.7L1831 470.8L1838.9 480.6L1847 491.3L1855.1 502.5L1863 513.9L1870.5 525.3L1877.7 536.4L1884.2 546.9L1890 556.5L1893.5 562.6L1896.7 568.6L1899.7 574.3L1902.4 579.9L1905 585.3L1907.4 590.5L1909.6 595.5L1911.8 600.3L1913.3 603.7L1914.8 607L1916.1 610.1L1917.4 613.2L1918.6 616.2L1919.7 619.2L1920.8 622.2L1921.8 625.3L1922.7 628.4L1923.6 631.5L1924.4 634.5L1925.2 637.6L1925.9 640.7L1926.5 643.9L1927.1 647.1L1927.6 650.3L1928.1 653.9L1928.5 657.7L1928.8 661.5L1929 665.3L1929.3 669.1L1929.4 672.9L1929.6 676.5L1929.8 680L1929.9 682.7L1930.1 685.2L1930.2 687.5L1930.3 689.9L1930.3 692.3L1930.4 694.8L1930.5 697.4L1930.6 700.4L1930.8 705.6L1930.9 711.4L1931.1 717.7L1931.3 724.2L1931.4 730.9L1931.6 737.6L1931.7 744.2L1931.8 750.5L1931.9 756.4L1931.9 762.2L1931.9 768L1931.9 773.8L1931.8 779.5L1931.8 785.3L1931.8 791L1931.8 796.8"/>
</g>
<path d="M232.5 1341L239.9 1309L247.6 1276.1L255.3 1242.9L263 1209.9L270.5 1177.5L277.8 1146.4L284.6 1117.1L291 1090L295.1 1072.5L299.1 1055.6L302.9 1039.5L306.6 1024.1L310.2 1009.3L313.6 995.1L316.9 981.6L320.1 968.6L322.3 959.7L324.5 951.3L326.6 943.2L328.6 935.4L330.6 927.8L332.5 920.5L334.5 913.2L336.4 906L338 900.1L339.5 894.7L341 889.5L342.4 884.3L343.9 879L345.6 873.4L347.3 867.1L349.3 860L353.9 843.4L359.4 823.2L365.6 800.6L372.2 776.7L378.7 752.8L385 730.1L390.6 709.7L395.2 693L397.2 685.7L399 679.2L400.7 673.3L402.2 667.8L403.7 662.5L405.2 657.1L406.9 651.4L408.7 645.2L411.1 637L413.7 628.2L416.4 619.1L419.2 609.9L422.1 600.7L424.9 591.8L427.6 583.3L430.2 575.4" fill="none" stroke="#ff0000" stroke-width="13.4"/>
<g stroke-linejoin="miter" stroke-linecap="butt">
<circle cx="232.5" cy="1341" r="15.8" fill="#fff" stroke="#ff0000" stroke-width="3.3"/>
<circle cx="291" cy="1090" r="15.8" fill="#fff" stroke="#ff0000" stroke-width="3.3"/>
<circle cx="349.3" cy="860" r="15.8" fill="#fff" stroke="#ff0000" stroke-width="3.3"/>
<circle cx="408.7" cy="645.2" r="15.8" fill="#fff" stroke="#ff0000" stroke-width="3.3"/>
<circle cx="469.1" cy="522.3" r="15.8" fill="#fff" stroke="#ff0000" stroke-width="3.3"/>
<circle cx="527.2" cy="504.8" r="15.8" fill="#fff" stroke="#ff0000" stroke-width="3.3"/>
<circle cx="586.2" cy="481.8" r="15.8" fill="#fff" stroke="#ff0000" stroke-width="3.3"/>
<circle cx="645.2" cy="460.1" r="15.8" fill="#fff" stroke="#ff0000" stroke-width="3.3"/>
<circle cx="704.2" cy="439.5" r="15.8" fill="#fff" stroke="#ff0000" stroke-width="3.3"/>
<circle cx="763.2" cy="419.8" r="15.8" fill="#fff" stroke="#ff0000" stroke-width="3.3"/>
<circle cx="822.2" cy="402.8" r="15.8" fill="#fff" stroke="#ff0000" stroke-width="3.3"/>
<circle cx="881.3" cy="387.9" r="15.8" fill="#fff" stroke="#ff0000" stroke-width="3.3"/>
<circle cx="940.4" cy="375" r="15.8" fill="#fff" stroke="#ff0000" stroke-width="3.3"/>
<circle cx="999.5" cy="364.5" r="15.8" fill="#fff" stroke="#ff0000" stroke-width="3.3"/>
<circle cx="1058.6" cy="354" r="15.8" fill="#fff" stroke="#ff0000" stroke-width="3.3"/>
<circle cx="1117.8" cy="345.7" r="15.8" fill="#fff" stroke="#ff0000" stroke-width="3.3"/>
<circle cx="1177" cy="338.9" r="15.8" fill="#fff" stroke="#ff0000" stroke-width="3.3"/>
<circle cx="1236.2" cy="333.3" r="15.8" fill="#fff" stroke="#ff0000" stroke-width="3.3"/>
<circle cx="1295.5" cy="328.7" r="15.8" fill="#fff" stroke="#ff0000" stroke-width="3.3"/>
<circle cx="1354.9" cy="326.1" r="15.8" fill="#fff" stroke="#ff0000" stroke-width="3.3"/>
<circle cx="1414.3" cy="322.3" r="15.8" fill="#fff" stroke="#ff0000" stroke-width="3.3"/>
<circle cx="1473.7" cy="321.1" r="15.8" fill="#fff" stroke="#ff0000" stroke-width="3.3"/>
<circle cx="1533.2" cy="321.6" r="15.8" fill="#fff" stroke="#ff0000" stroke-width="3.3"/>
<circle cx="1592.8" cy="330.3" r="15.8" fill="#fff" stroke="#ff0000" stroke-width="3.3"/>
<circle cx="1652.4" cy="343.7" r="15.8" fill="#fff" stroke="#ff0000" stroke-width="3.3"/>
<circle cx="1712" cy="372.3" r="15.8" fill="#fff" stroke="#ff0000" stroke-width="3.3"/>
<circle cx="1771.8" cy="412.3" r="15.8" fill="#fff" stroke="#ff0000" stroke-width="3.3"/>
<circle cx="1831.6" cy="471.6" r="15.8" fill="#fff" stroke="#ff0000" stroke-width="3.3"/>
<circle cx="1891.5" cy="559.1" r="15.8" fill="#fff" stroke="#ff0000" stroke-width="3.3"/>
</g>
<g fill="none" stroke="#0000ff" stroke-width="10.6">
<path d="M231.6 1345.9L232.7 1341.1L233.7 1336.4L234.8 1331.7L235.8 1327L236.9 1322.2L238 1317.3L239.2 1312.2L240.4 1306.8L242.1 1299.4L243.9 1291.8L245.7 1283.8L247.7 1275.6L249.7 1267.1L251.8 1258.3L254.1 1249.2L256.5 1239.8L260.1 1226L264.3 1210.8L268.7 1194.6L273.3 1178.1L277.9 1161.7L282.3 1146.1L286.3 1131.7L289.8 1119L291.6 1112.2L293.3 1106.1L294.7 1100.5L296.1 1095.2L297.5 1089.9L299 1084.4L300.7 1078.5L302.5 1071.9L305.7 1060.7L309.4 1048.3L313.4 1035L317.5 1021.2L321.7 1007.2L325.8 993.6L329.6 980.6L333 968.6L335.3 960.1L337.4 952.1L339.3 944.4L341.2 936.9L343.1 929.4L345 921.9L347 914.1L349.3 906L352.1 896.3L355.1 886.5L358.2 876.6L361.3 866.5L364.6 856.1L368 845.5L371.4 834.5L374.9 823.2L379.4 808.2L384.2 792.2L389.1 775.6L394.1 758.7L399.2 741.6L404.2 724.8L409.2 708.5L414 693L418.1 680.1L422.3 667.2L426.5 654.5L430.6 642.1L434.7 630L438.6 618.5L442.4 607.5L445.9 597.3L448.2 590.6L450.4 584.4L452.5 578.6L454.6 572.9L456.6 567.4L458.6 561.8L460.6 556.2L462.7 550.4L464.9 544.2L467 537.8L469.1 531.4L471.3 524.9L473.4 518.6L475.6 512.3L477.9 506.2L480.2 500.3L482.3 495.3L484.3 490.3L486.4 485.4L488.5 480.6L490.7 476L493 471.4L495.3 467L497.8 462.8L500.1 459.1L502.4 455.5L504.8 452.1L507.2 448.7L509.8 445.5L512.5 442.3L515.3 439.2L518.3 436.1L521.8 432.9L525.5 429.7L529.3 426.7L533.4 423.7L537.5 420.8L541.7 418.1L546 415.3L550.3 412.7L554.7 410.1L559.2 407.6L563.6 405.1L568.2 402.8L572.9 400.5L577.8 398.3L583 396.1L588.4 393.9L596.1 391L604.4 388.3L613.2 385.5L622.3 382.9L631.6 380.3L640.9 377.7L650.2 375.2L659.2 372.7L668 370.2L676.9 367.8L685.7 365.3L694.6 362.9L703.5 360.6L712.3 358.3L721.2 356.1L730.1 353.9L738.9 351.8L747.7 349.9L756.5 347.9L765.4 346.1L774.2 344.3L783 342.5L791.9 340.7L800.7 338.9L809.5 337.1L818.3 335.3L827.2 333.6L836 331.8L844.8 330.1L853.6 328.5L862.5 326.9L871.3 325.3L880.1 323.8L888.9 322.4L897.7 321L906.6 319.7L915.4 318.3L924.2 317.1L933.1 315.8L941.9 314.5L950.8 313.2L959.6 311.9L968.5 310.6L977.3 309.3L986.2 308.1L995.1 306.9L1003.9 305.8L1012.8 304.8L1021.6 303.9L1030.3 303.1L1039.1 302.3L1047.8 301.7L1056.6 301L1065.3 300.4L1074.1 299.7L1082.9 299L1091.8 298.3L1100.7 297.5L1109.6 296.7L1118.5 295.9L1127.5 295.1L1136.4 294.4L1145.3 293.8L1154.2 293.3L1163 292.9L1171.9 292.6L1180.7 292.3L1189.5 292.1L1198.3 291.9L1207.1 291.8L1216 291.6L1224.8 291.5L1233.7 291.4L1242.5 291.2L1251.4 291.1L1260.2 291L1269.1 290.9L1278 290.9L1286.8 290.8L1295.7 290.8L1304.6 290.8L1313.6 290.7L1322.5 290.7L1331.5 290.7L1340.4 290.7L1349.3 290.9L1358.3 291.1L1367.2 291.5L1376.1 292L1385 292.5L1393.9 293.1L1402.8 293.9L1411.7 294.7L1420.6 295.7L1429.5 296.9L1438.3 298.3L1447.3 299.9L1456.2 301.7L1465.1 303.7L1474.1 305.9L1483 308.2L1491.9 310.6L1500.7 313.2L1509.6 315.8L1518.6 318.6L1527.6 321.5L1536.6 324.5L1545.6 327.6L1554.5 330.9L1563.4 334.3L1572.3 337.9L1581.2 341.6L1590.3 345.6L1599.4 349.8L1608.4 354.1L1617.5 358.6L1626.5 363.3L1635.4 368.1L1644.3 373.2L1653.1 378.4L1662.2 384L1671.3 389.7L1680.3 395.7L1689.3 401.8L1698.2 408.1L1707 414.8L1715.8 421.7L1724.4 429L1733.7 437.3L1743 446L1752.2 454.9L1761.2 464.3L1770.2 473.9L1779 484L1787.7 494.3L1796.2 505.1L1806 518.4L1816 533.1L1826.1 548.7L1835.9 564.6L1845.2 580.1L1853.7 594.7L1861.3 607.9L1867.5 619L1870.2 623.8L1872.5 628.2L1874.6 632.2L1876.5 635.9L1878.2 639.6L1879.9 643.1L1881.4 646.6L1883 650.3L1884.4 653.5L1885.7 656.7L1886.9 659.8L1888.1 662.9L1889.2 666L1890.1 669.1L1891 672.2L1891.8 675.4L1892.4 678.5L1892.9 681.7L1893.3 684.9L1893.6 688.1L1893.9 691.3L1894.1 694.4L1894.2 697.5L1894.3 700.4L1894.4 702.7L1894.3 705L1894.3 707.2L1894.2 709.3L1894.1 711.5L1894 713.6L1893.9 715.7L1893.8 717.9"/>
<path transform="translate(0 0.9)" d="M231.6 1345.9L232.7 1341.1L233.7 1336.4L234.8 1331.7L235.8 1327L236.9 1322.2L238 1317.3L239.2 1312.2L240.4 1306.8L242.1 1299.4L243.9 1291.8L245.7 1283.8L247.7 1275.6L249.7 1267.1L251.8 1258.3L254.1 1249.2L256.5 1239.8L260.1 1226L264.3 1210.8L268.7 1194.6L273.3 1178.1L277.9 1161.7L282.3 1146.1L286.3 1131.7L289.8 1119L291.6 1112.2L293.3 1106.1L294.7 1100.5L296.1 1095.2L297.5 1089.9L299 1084.4L300.7 1078.5L302.5 1071.9L305.7 1060.7L309.4 1048.3L313.4 1035L317.5 1021.2L321.7 1007.2L325.8 993.6L329.6 980.6L333 968.6L335.3 960.1L337.4 952.1L339.3 944.4L341.2 936.9L343.1 929.4L345 921.9L347 914.1L349.3 906L352.1 896.3L355.1 886.5L358.2 876.6L361.3 866.5L364.6 856.1L368 845.5L371.4 834.5L374.9 823.2L379.4 808.2L384.2 792.2L389.1 775.6L394.1 758.7L399.2 741.6L404.2 724.8L409.2 708.5L414 693L418.1 680.1L422.3 667.2L426.5 654.5L430.6 642.1L434.7 630L438.6 618.5L442.4 607.5L445.9 597.3L448.2 590.6L450.4 584.4L452.5 578.6L454.6 572.9L456.6 567.4L458.6 561.8L460.6 556.2L462.7 550.4L464.9 544.2L467 537.8L469.1 531.4L471.3 524.9L473.4 518.6L475.6 512.3L477.9 506.2L480.2 500.3L482.3 495.3L484.3 490.3L486.4 485.4L488.5 480.6L490.7 476L493 471.4L495.3 467L497.8 462.8L500.1 459.1L502.4 455.5L504.8 452.1L507.2 448.7L509.8 445.5L512.5 442.3L515.3 439.2L518.3 436.1L521.8 432.9L525.5 429.7L529.3 426.7L533.4 423.7L537.5 420.8L541.7 418.1L546 415.3L550.3 412.7L554.7 410.1L559.2 407.6L563.6 405.1L568.2 402.8L572.9 400.5L577.8 398.3L583 396.1L588.4 393.9L596.1 391L604.4 388.3L613.2 385.5L622.3 382.9L631.6 380.3L640.9 377.7L650.2 375.2L659.2 372.7L668 370.2L676.9 367.8L685.7 365.3L694.6 362.9L703.5 360.6L712.3 358.3L721.2 356.1L730.1 353.9L738.9 351.8L747.7 349.9L756.5 347.9L765.4 346.1L774.2 344.3L783 342.5L791.9 340.7L800.7 338.9L809.5 337.1L818.3 335.3L827.2 333.6L836 331.8L844.8 330.1L853.6 328.5L862.5 326.9L871.3 325.3L880.1 323.8L888.9 322.4L897.7 321L906.6 319.7L915.4 318.3L924.2 317.1L933.1 315.8L941.9 314.5L950.8 313.2L959.6 311.9L968.5 310.6L977.3 309.3L986.2 308.1L995.1 306.9L1003.9 305.8L1012.8 304.8L1021.6 303.9L1030.3 303.1L1039.1 302.3L1047.8 301.7L1056.6 301L1065.3 300.4L1074.1 299.7L1082.9 299L1091.8 298.3L1100.7 297.5L1109.6 296.7L1118.5 295.9L1127.5 295.1L1136.4 294.4L1145.3 293.8L1154.2 293.3L1163 292.9L1171.9 292.6L1180.7 292.3L1189.5 292.1L1198.3 291.9L1207.1 291.8L1216 291.6L1224.8 291.5L1233.7 291.4L1242.5 291.2L1251.4 291.1L1260.2 291L1269.1 290.9L1278 290.9L1286.8 290.8L1295.7 290.8L1304.6 290.8L1313.6 290.7L1322.5 290.7L1331.5 290.7L1340.4 290.7L1349.3 290.9L1358.3 291.1L1367.2 291.5L1376.1 292L1385 292.5L1393.9 293.1L1402.8 293.9L1411.7 294.7L1420.6 295.7L1429.5 296.9L1438.3 298.3L1447.3 299.9L1456.2 301.7L1465.1 303.7L1474.1 305.9L1483 308.2L1491.9 310.6L1500.7 313.2L1509.6 315.8L1518.6 318.6L1527.6 321.5L1536.6 324.5L1545.6 327.6L1554.5 330.9L1563.4 334.3L1572.3 337.9L1581.2 341.6L1590.3 345.6L1599.4 349.8L1608.4 354.1L1617.5 358.6L1626.5 363.3L1635.4 368.1L1644.3 373.2L1653.1 378.4L1662.2 384L1671.3 389.7L1680.3 395.7L1689.3 401.8L1698.2 408.1L1707 414.8L1715.8 421.7L1724.4 429L1733.7 437.3L1743 446L1752.2 454.9L1761.2 464.3L1770.2 473.9L1779 484L1787.7 494.3L1796.2 505.1L1806 518.4L1816 533.1L1826.1 548.7L1835.9 564.6L1845.2 580.1L1853.7 594.7L1861.3 607.9L1867.5 619L1870.2 623.8L1872.5 628.2L1874.6 632.2L1876.5 635.9L1878.2 639.6L1879.9 643.1L1881.4 646.6L1883 650.3L1884.4 653.5L1885.7 656.7L1886.9 659.8L1888.1 662.9L1889.2 666L1890.1 669.1L1891 672.2L1891.8 675.4L1892.4 678.5L1892.9 681.7L1893.3 684.9L1893.6 688.1L1893.9 691.3L1894.1 694.4L1894.2 697.5L1894.3 700.4L1894.4 702.7L1894.3 705L1894.3 707.2L1894.2 709.3L1894.1 711.5L1894 713.6L1893.9 715.7L1893.8 717.9"/>
<path transform="translate(0 -0.9)" d="M231.6 1345.9L232.7 1341.1L233.7 1336.4L234.8 1331.7L235.8 1327L236.9 1322.2L238 1317.3L239.2 1312.2L240.4 1306.8L242.1 1299.4L243.9 1291.8L245.7 1283.8L247.7 1275.6L249.7 1267.1L251.8 1258.3L254.1 1249.2L256.5 1239.8L260.1 1226L264.3 1210.8L268.7 1194.6L273.3 1178.1L277.9 1161.7L282.3 1146.1L286.3 1131.7L289.8 1119L291.6 1112.2L293.3 1106.1L294.7 1100.5L296.1 1095.2L297.5 1089.9L299 1084.4L300.7 1078.5L302.5 1071.9L305.7 1060.7L309.4 1048.3L313.4 1035L317.5 1021.2L321.7 1007.2L325.8 993.6L329.6 980.6L333 968.6L335.3 960.1L337.4 952.1L339.3 944.4L341.2 936.9L343.1 929.4L345 921.9L347 914.1L349.3 906L352.1 896.3L355.1 886.5L358.2 876.6L361.3 866.5L364.6 856.1L368 845.5L371.4 834.5L374.9 823.2L379.4 808.2L384.2 792.2L389.1 775.6L394.1 758.7L399.2 741.6L404.2 724.8L409.2 708.5L414 693L418.1 680.1L422.3 667.2L426.5 654.5L430.6 642.1L434.7 630L438.6 618.5L442.4 607.5L445.9 597.3L448.2 590.6L450.4 584.4L452.5 578.6L454.6 572.9L456.6 567.4L458.6 561.8L460.6 556.2L462.7 550.4L464.9 544.2L467 537.8L469.1 531.4L471.3 524.9L473.4 518.6L475.6 512.3L477.9 506.2L480.2 500.3L482.3 495.3L484.3 490.3L486.4 485.4L488.5 480.6L490.7 476L493 471.4L495.3 467L497.8 462.8L500.1 459.1L502.4 455.5L504.8 452.1L507.2 448.7L509.8 445.5L512.5 442.3L515.3 439.2L518.3 436.1L521.8 432.9L525.5 429.7L529.3 426.7L533.4 423.7L537.5 420.8L541.7 418.1L546 415.3L550.3 412.7L554.7 410.1L559.2 407.6L563.6 405.1L568.2 402.8L572.9 400.5L577.8 398.3L583 396.1L588.4 393.9L596.1 391L604.4 388.3L613.2 385.5L622.3 382.9L631.6 380.3L640.9 377.7L650.2 375.2L659.2 372.7L668 370.2L676.9 367.8L685.7 365.3L694.6 362.9L703.5 360.6L712.3 358.3L721.2 356.1L730.1 353.9L738.9 351.8L747.7 349.9L756.5 347.9L765.4 346.1L774.2 344.3L783 342.5L791.9 340.7L800.7 338.9L809.5 337.1L818.3 335.3L827.2 333.6L836 331.8L844.8 330.1L853.6 328.5L862.5 326.9L871.3 325.3L880.1 323.8L888.9 322.4L897.7 321L906.6 319.7L915.4 318.3L924.2 317.1L933.1 315.8L941.9 314.5L950.8 313.2L959.6 311.9L968.5 310.6L977.3 309.3L986.2 308.1L995.1 306.9L1003.9 305.8L1012.8 304.8L1021.6 303.9L1030.3 303.1L1039.1 302.3L1047.8 301.7L1056.6 301L1065.3 300.4L1074.1 299.7L1082.9 299L1091.8 298.3L1100.7 297.5L1109.6 296.7L1118.5 295.9L1127.5 295.1L1136.4 294.4L1145.3 293.8L1154.2 293.3L1163 292.9L1171.9 292.6L1180.7 292.3L1189.5 292.1L1198.3 291.9L1207.1 291.8L1216 291.6L1224.8 291.5L1233.7 291.4L1242.5 291.2L1251.4 291.1L1260.2 291L1269.1 290.9L1278 290.9L1286.8 290.8L1295.7 290.8L1304.6 290.8L1313.6 290.7L1322.5 290.7L1331.5 290.7L1340.4 290.7L1349.3 290.9L1358.3 291.1L1367.2 291.5L1376.1 292L1385 292.5L1393.9 293.1L1402.8 293.9L1411.7 294.7L1420.6 295.7L1429.5 296.9L1438.3 298.3L1447.3 299.9L1456.2 301.7L1465.1 303.7L1474.1 305.9L1483 308.2L1491.9 310.6L1500.7 313.2L1509.6 315.8L1518.6 318.6L1527.6 321.5L1536.6 324.5L1545.6 327.6L1554.5 330.9L1563.4 334.3L1572.3 337.9L1581.2 341.6L1590.3 345.6L1599.4 349.8L1608.4 354.1L1617.5 358.6L1626.5 363.3L1635.4 368.1L1644.3 373.2L1653.1 378.4L1662.2 384L1671.3 389.7L1680.3 395.7L1689.3 401.8L1698.2 408.1L1707 414.8L1715.8 421.7L1724.4 429L1733.7 437.3L1743 446L1752.2 454.9L1761.2 464.3L1770.2 473.9L1779 484L1787.7 494.3L1796.2 505.1L1806 518.4L1816 533.1L1826.1 548.7L1835.9 564.6L1845.2 580.1L1853.7 594.7L1861.3 607.9L1867.5 619L1870.2 623.8L1872.5 628.2L1874.6 632.2L1876.5 635.9L1878.2 639.6L1879.9 643.1L1881.4 646.6L1883 650.3L1884.4 653.5L1885.7 656.7L1886.9 659.8L1888.1 662.9L1889.2 666L1890.1 669.1L1891 672.2L1891.8 675.4L1892.4 678.5L1892.9 681.7L1893.3 684.9L1893.6 688.1L1893.9 691.3L1894.1 694.4L1894.2 697.5L1894.3 700.4L1894.4 702.7L1894.3 705L1894.3 707.2L1894.2 709.3L1894.1 711.5L1894 713.6L1893.9 715.7L1893.8 717.9"/>
</g>
<path d="M231.6 1345.9L232.7 1341.1L233.7 1336.4L234.8 1331.7L235.8 1327L236.9 1322.2L238 1317.3L239.2 1312.2L240.4 1306.8L242.1 1299.4L243.9 1291.8L245.7 1283.8L247.7 1275.6L249.7 1267.1L251.8 1258.3L254.1 1249.2L256.5 1239.8L260.1 1226L264.3 1210.8L268.7 1194.6L273.3 1178.1L277.9 1161.7L282.3 1146.1L286.3 1131.7L289.8 1119L291.6 1112.2L293.3 1106.1L294.7 1100.5L296.1 1095.2L297.5 1089.9L299 1084.4L300.7 1078.5L302.5 1071.9L305.7 1060.7L309.4 1048.3L313.4 1035L317.5 1021.2L321.7 1007.2L325.8 993.6L329.6 980.6L333 968.6L335.3 960.1L337.4 952.1L339.3 944.4L341.2 936.9L343.1 929.4L345 921.9L347 914.1L349.3 906L352.1 896.3L355.1 886.5L358.2 876.6L361.3 866.5L364.6 856.1L368 845.5L371.4 834.5L374.9 823.2L379.4 808.2L384.2 792.2L389.1 775.6L394.1 758.7L399.2 741.6L404.2 724.8L409.2 708.5L414 693L418.1 680.1L422.3 667.2L426.5 654.5L430.6 642.1L434.7 630L438.6 618.5L442.4 607.5L445.9 597.3" fill="none" stroke="#0000ff" stroke-width="13.4"/>
<g stroke-linejoin="miter" stroke-linecap="butt">
<path d="M211.4 1345.9L231.6 1325.7L251.8 1345.9L231.6 1366.1Z" fill="#fff" stroke="#0000ff" stroke-width="3.3"/>
<path d="M282.3 1071.9L302.5 1051.7L322.7 1071.9L302.5 1092.1Z" fill="#fff" stroke="#0000ff" stroke-width="3.3"/>
<path d="M354.7 823.2L374.9 803L395.1 823.2L374.9 843.4Z" fill="#fff" stroke="#0000ff" stroke-width="3.3"/>
<path d="M425.7 597.3L445.9 577.1L466.1 597.3L445.9 617.5Z" fill="#fff" stroke="#0000ff" stroke-width="3.3"/>
<path d="M498.1 436.1L518.3 415.9L538.5 436.1L518.3 456.3Z" fill="#fff" stroke="#0000ff" stroke-width="3.3"/>
<path d="M568 394L588.2 373.8L608.4 394L588.2 414.2Z" fill="#fff" stroke="#0000ff" stroke-width="3.3"/>
<path d="M638.9 372.7L659.1 352.5L679.3 372.7L659.1 392.9Z" fill="#fff" stroke="#0000ff" stroke-width="3.3"/>
<path d="M709.8 353.9L730 333.7L750.2 353.9L730 374.1Z" fill="#fff" stroke="#0000ff" stroke-width="3.3"/>
<path d="M780.5 338.9L800.7 318.7L820.9 338.9L800.7 359.1Z" fill="#fff" stroke="#0000ff" stroke-width="3.3"/>
<path d="M851.3 325.3L871.5 305.1L891.7 325.3L871.5 345.5Z" fill="#fff" stroke="#0000ff" stroke-width="3.3"/>
<path d="M922 314.5L942.2 294.3L962.4 314.5L942.2 334.7Z" fill="#fff" stroke="#0000ff" stroke-width="3.3"/>
<path d="M992.7 304.8L1012.9 284.6L1033.1 304.8L1012.9 325Z" fill="#fff" stroke="#0000ff" stroke-width="3.3"/>
<path d="M1063.4 298.9L1083.6 278.7L1103.8 298.9L1083.6 319.1Z" fill="#fff" stroke="#0000ff" stroke-width="3.3"/>
<path d="M1134.1 293.3L1154.3 273.1L1174.5 293.3L1154.3 313.5Z" fill="#fff" stroke="#0000ff" stroke-width="3.3"/>
<path d="M1205 291.5L1225.2 271.3L1245.4 291.5L1225.2 311.7Z" fill="#fff" stroke="#0000ff" stroke-width="3.3"/>
<path d="M1275.9 290.8L1296.1 270.6L1316.3 290.8L1296.1 311Z" fill="#fff" stroke="#0000ff" stroke-width="3.3"/>
<path d="M1346.8 291.5L1367 271.3L1387.2 291.5L1367 311.7Z" fill="#fff" stroke="#0000ff" stroke-width="3.3"/>
<path d="M1417.9 298.3L1438.1 278.1L1458.3 298.3L1438.1 318.5Z" fill="#fff" stroke="#0000ff" stroke-width="3.3"/>
<path d="M1489.2 315.7L1509.4 295.5L1529.6 315.7L1509.4 335.9Z" fill="#fff" stroke="#0000ff" stroke-width="3.3"/>
<path d="M1560.6 341.4L1580.8 321.2L1601 341.4L1580.8 361.6Z" fill="#fff" stroke="#0000ff" stroke-width="3.3"/>
<path d="M1632.2 378L1652.4 357.8L1672.6 378L1652.4 398.2Z" fill="#fff" stroke="#0000ff" stroke-width="3.3"/>
<path d="M1703.9 428.8L1724.1 408.6L1744.3 428.8L1724.1 449Z" fill="#fff" stroke="#0000ff" stroke-width="3.3"/>
<path d="M1775.9 505L1796.1 484.8L1816.3 505L1796.1 525.2Z" fill="#fff" stroke="#0000ff" stroke-width="3.3"/>
<path d="M1848.2 620.6L1868.4 600.4L1888.6 620.6L1868.4 640.8Z" fill="#fff" stroke="#0000ff" stroke-width="3.3"/>
</g>
<g fill="none" stroke="#008080" stroke-width="10.6">
<path d="M232.1 1347.7L233.1 1342.7L234 1337.7L234.9 1332.8L235.9 1327.9L236.8 1322.9L237.8 1317.7L238.9 1312.4L240 1306.8L241.5 1299.3L243.2 1291.7L244.8 1283.7L246.6 1275.5L248.4 1267.1L250.4 1258.3L252.3 1249.2L254.4 1239.8L257.5 1225.8L261 1210.1L264.7 1193.3L268.5 1176.3L272.3 1159.6L275.7 1144L278.8 1130.2L281.3 1119L282.2 1114.8L283 1111.2L283.7 1108.1L284.3 1105.3L284.9 1102.4L285.6 1099.3L286.4 1095.7L287.3 1091.5L289.8 1080.1L292.9 1066L296.4 1050L300.1 1033L304 1015.5L307.8 998.5L311.4 982.6L314.6 968.6L316.7 959.7L318.7 951.4L320.7 943.4L322.6 935.7L324.5 928.2L326.3 920.9L328.2 913.5L330.1 906L331.8 899.1L333.5 892.7L335.1 886.4L336.7 880L338.4 873.5L340.2 866.7L342.2 859.2L344.3 851L348.6 834.6L353.5 815.3L359 794.2L364.7 772.1L370.5 749.9L376.1 728.7L381.3 709.5L385.8 693L388.1 684.8L390.2 677.5L392.2 670.9L394.1 664.6L396 658.4L398 651.9L400.1 644.9L402.5 637L406.6 623.2L411.3 607.4L416.4 590.3L421.7 572.7L426.9 555.3L431.8 538.9L436.2 524.2L440 512L441.7 506.6L443.3 501.6L444.7 497L446.1 492.7L447.4 488.7L448.7 484.9L449.9 481.4L451 478L451.7 475.9L452.4 473.9L453.1 472.1L453.7 470.3L454.3 468.6L454.9 467L455.5 465.5L456 464L456.3 463.1L456.7 462.2L457 461.4L457.3 460.6L457.6 459.8L457.9 459.1L458.2 458.3L458.5 457.5L458.8 456.7L459.2 455.8L459.5 455L459.9 454.2L460.2 453.4L460.6 452.6L461 451.8L461.5 451L462 450.3L462.5 449.6L463 448.9L463.5 448.2L464.1 447.5L464.7 446.9L465.3 446.2L466 445.5L466.9 444.6L467.9 443.7L469 442.9L470.1 442L471.3 441.1L472.5 440.2L473.8 439.4L475 438.5L476.4 437.5L477.9 436.6L479.3 435.7L480.8 434.8L482.4 433.9L484 432.9L485.8 432L487.6 431L490.4 429.5L493.6 428L496.9 426.5L500.4 424.9L503.9 423.3L507.4 421.7L510.9 420.1L514.2 418.5L517.2 417L520.1 415.5L522.9 414L525.8 412.5L528.6 410.9L531.6 409.4L534.6 407.8L537.7 406.2L541.6 404.2L545.7 402.1L549.9 400L554.2 397.8L558.5 395.7L562.8 393.5L567.1 391.5L571.2 389.5L574.9 387.8L578.6 386.1L582.2 384.4L585.8 382.8L589.4 381.2L593 379.6L596.7 378.1L600.3 376.5L603.9 375L607.4 373.5L610.9 372L614.4 370.6L618 369.1L621.7 367.7L625.6 366.1L629.8 364.5L636 362.1L642.7 359.6L649.7 357L657 354.4L664.5 351.7L671.9 349L679.4 346.4L686.6 343.9L693.7 341.5L700.8 339.1L707.9 336.7L715 334.4L722.1 332.1L729.2 329.8L736.3 327.4L743.4 325.1L750.5 322.7L757.6 320.2L764.7 317.8L771.8 315.3L778.8 312.8L785.9 310.5L793.1 308.2L800.2 306.1L807.3 304.1L814.3 302.3L821.4 300.6L828.5 298.9L835.7 297.3L842.8 295.7L849.9 294.1L857 292.5L864.1 290.9L871.2 289.3L878.3 287.8L885.4 286.2L892.5 284.7L899.6 283.3L906.7 281.9L913.8 280.5L920.9 279.2L928 278L935.1 276.8L942.2 275.6L949.3 274.5L956.4 273.4L963.5 272.3L970.6 271.2L977.7 270.1L984.8 269.1L991.9 268.1L999 267.1L1006.1 266.1L1013.2 265.1L1020.3 264.1L1027.4 263.2L1034.5 262.3L1041.6 261.3L1048.7 260.4L1055.8 259.4L1062.9 258.5L1070 257.7L1077.1 256.9L1084.2 256.2L1091.3 255.6L1098.4 255.1L1105.5 254.6L1112.6 254.2L1119.7 253.8L1126.8 253.4L1133.9 252.9L1141 252.4L1148.1 251.8L1155.2 251.2L1162.3 250.5L1169.4 249.8L1176.5 249.1L1183.6 248.5L1190.7 247.9L1197.8 247.4L1204.9 247L1212 246.6L1219.1 246.2L1226.2 245.9L1233.3 245.7L1240.4 245.4L1247.5 245.2L1254.6 244.9L1261.7 244.6L1268.8 244.4L1275.9 244.1L1283 243.9L1290.1 243.7L1297.2 243.5L1304.3 243.3L1311.4 243.2L1318.5 243.1L1325.6 243L1332.7 242.9L1339.8 242.9L1346.9 242.9L1354 242.9L1361.1 243L1368.2 243.2L1375.3 243.4L1382.4 243.6L1389.5 243.9L1396.6 244.2L1403.7 244.5L1410.8 245L1417.9 245.5L1425 246.2L1432.1 246.9L1439.3 247.7L1446.4 248.5L1453.5 249.5L1460.6 250.5L1467.7 251.8L1474.8 253.2L1481.8 254.9L1489 256.9L1496.2 259.1L1503.3 261.6L1510.4 264.2L1517.5 267L1524.6 270L1531.6 273L1538.6 276.2L1545.8 279.6L1553 283.1L1560.2 286.8L1567.3 290.6L1574.4 294.6L1581.4 298.7L1588.4 303L1595.4 307.5L1602.7 312.4L1609.9 317.4L1617.2 322.6L1624.3 328L1631.4 333.6L1638.4 339.4L1645.4 345.4L1652.2 351.8L1659.6 359.1L1667 366.7L1674.3 374.5L1681.4 382.7L1688.5 391.1L1695.4 399.9L1702.3 409L1709 418.4L1716.9 430.4L1725 443.9L1733.1 458.2L1741 472.8L1748.5 486.9L1755.2 500L1761.1 511.4L1765.8 520.6L1767.4 523.7L1768.8 526.4L1770 528.7L1771.1 530.9L1772.1 533L1773.1 535.1L1774.2 537.5L1775.4 540.2L1777.2 544.5L1779.1 549.2L1781.1 554.1L1783.1 559.2L1785.1 564.5L1786.9 569.8L1788.7 575.1L1790.4 580.2L1791.9 585.2L1793.3 590.3L1794.7 595.4L1796 600.5L1797.2 605.6L1798.3 610.6L1799.4 615.5L1800.4 620.3L1801.2 624.3L1802 628.2L1802.8 632L1803.4 635.8L1804.1 639.5L1804.6 643.2L1805.1 646.8L1805.4 650.3L1805.6 653.3L1805.7 656.2L1805.7 659L1805.6 661.8L1805.6 664.6L1805.5 667.3L1805.4 670.1L1805.4 672.9"/>
<path transform="translate(0 0.9)" d="M232.1 1347.7L233.1 1342.7L234 1337.7L234.9 1332.8L235.9 1327.9L236.8 1322.9L237.8 1317.7L238.9 1312.4L240 1306.8L241.5 1299.3L243.2 1291.7L244.8 1283.7L246.6 1275.5L248.4 1267.1L250.4 1258.3L252.3 1249.2L254.4 1239.8L257.5 1225.8L261 1210.1L264.7 1193.3L268.5 1176.3L272.3 1159.6L275.7 1144L278.8 1130.2L281.3 1119L282.2 1114.8L283 1111.2L283.7 1108.1L284.3 1105.3L284.9 1102.4L285.6 1099.3L286.4 1095.7L287.3 1091.5L289.8 1080.1L292.9 1066L296.4 1050L300.1 1033L304 1015.5L307.8 998.5L311.4 982.6L314.6 968.6L316.7 959.7L318.7 951.4L320.7 943.4L322.6 935.7L324.5 928.2L326.3 920.9L328.2 913.5L330.1 906L331.8 899.1L333.5 892.7L335.1 886.4L336.7 880L338.4 873.5L340.2 866.7L342.2 859.2L344.3 851L348.6 834.6L353.5 815.3L359 794.2L364.7 772.1L370.5 749.9L376.1 728.7L381.3 709.5L385.8 693L388.1 684.8L390.2 677.5L392.2 670.9L394.1 664.6L396 658.4L398 651.9L400.1 644.9L402.5 637L406.6 623.2L411.3 607.4L416.4 590.3L421.7 572.7L426.9 555.3L431.8 538.9L436.2 524.2L440 512L441.7 506.6L443.3 501.6L444.7 497L446.1 492.7L447.4 488.7L448.7 484.9L449.9 481.4L451 478L451.7 475.9L452.4 473.9L453.1 472.1L453.7 470.3L454.3 468.6L454.9 467L455.5 465.5L456 464L456.3 463.1L456.7 462.2L457 461.4L457.3 460.6L457.6 459.8L457.9 459.1L458.2 458.3L458.5 457.5L458.8 456.7L459.2 455.8L459.5 455L459.9 454.2L460.2 453.4L460.6 452.6L461 451.8L461.5 451L462 450.3L462.5 449.6L463 448.9L463.5 448.2L464.1 447.5L464.7 446.9L465.3 446.2L466 445.5L466.9 444.6L467.9 443.7L469 442.9L470.1 442L471.3 441.1L472.5 440.2L473.8 439.4L475 438.5L476.4 437.5L477.9 436.6L479.3 435.7L480.8 434.8L482.4 433.9L484 432.9L485.8 432L487.6 431L490.4 429.5L493.6 428L496.9 426.5L500.4 424.9L503.9 423.3L507.4 421.7L510.9 420.1L514.2 418.5L517.2 417L520.1 415.5L522.9 414L525.8 412.5L528.6 410.9L531.6 409.4L534.6 407.8L537.7 406.2L541.6 404.2L545.7 402.1L549.9 400L554.2 397.8L558.5 395.7L562.8 393.5L567.1 391.5L571.2 389.5L574.9 387.8L578.6 386.1L582.2 384.4L585.8 382.8L589.4 381.2L593 379.6L596.7 378.1L600.3 376.5L603.9 375L607.4 373.5L610.9 372L614.4 370.6L618 369.1L621.7 367.7L625.6 366.1L629.8 364.5L636 362.1L642.7 359.6L649.7 357L657 354.4L664.5 351.7L671.9 349L679.4 346.4L686.6 343.9L693.7 341.5L700.8 339.1L707.9 336.7L715 334.4L722.1 332.1L729.2 329.8L736.3 327.4L743.4 325.1L750.5 322.7L757.6 320.2L764.7 317.8L771.8 315.3L778.8 312.8L785.9 310.5L793.1 308.2L800.2 306.1L807.3 304.1L814.3 302.3L821.4 300.6L828.5 298.9L835.7 297.3L842.8 295.7L849.9 294.1L857 292.5L864.1 290.9L871.2 289.3L878.3 287.8L885.4 286.2L892.5 284.7L899.6 283.3L906.7 281.9L913.8 280.5L920.9 279.2L928 278L935.1 276.8L942.2 275.6L949.3 274.5L956.4 273.4L963.5 272.3L970.6 271.2L977.7 270.1L984.8 269.1L991.9 268.1L999 267.1L1006.1 266.1L1013.2 265.1L1020.3 264.1L1027.4 263.2L1034.5 262.3L1041.6 261.3L1048.7 260.4L1055.8 259.4L1062.9 258.5L1070 257.7L1077.1 256.9L1084.2 256.2L1091.3 255.6L1098.4 255.1L1105.5 254.6L1112.6 254.2L1119.7 253.8L1126.8 253.4L1133.9 252.9L1141 252.4L1148.1 251.8L1155.2 251.2L1162.3 250.5L1169.4 249.8L1176.5 249.1L1183.6 248.5L1190.7 247.9L1197.8 247.4L1204.9 247L1212 246.6L1219.1 246.2L1226.2 245.9L1233.3 245.7L1240.4 245.4L1247.5 245.2L1254.6 244.9L1261.7 244.6L1268.8 244.4L1275.9 244.1L1283 243.9L1290.1 243.7L1297.2 243.5L1304.3 243.3L1311.4 243.2L1318.5 243.1L1325.6 243L1332.7 242.9L1339.8 242.9L1346.9 242.9L1354 242.9L1361.1 243L1368.2 243.2L1375.3 243.4L1382.4 243.6L1389.5 243.9L1396.6 244.2L1403.7 244.5L1410.8 245L1417.9 245.5L1425 246.2L1432.1 246.9L1439.3 247.7L1446.4 248.5L1453.5 249.5L1460.6 250.5L1467.7 251.8L1474.8 253.2L1481.8 254.9L1489 256.9L1496.2 259.1L1503.3 261.6L1510.4 264.2L1517.5 267L1524.6 270L1531.6 273L1538.6 276.2L1545.8 279.6L1553 283.1L1560.2 286.8L1567.3 290.6L1574.4 294.6L1581.4 298.7L1588.4 303L1595.4 307.5L1602.7 312.4L1609.9 317.4L1617.2 322.6L1624.3 328L1631.4 333.6L1638.4 339.4L1645.4 345.4L1652.2 351.8L1659.6 359.1L1667 366.7L1674.3 374.5L1681.4 382.7L1688.5 391.1L1695.4 399.9L1702.3 409L1709 418.4L1716.9 430.4L1725 443.9L1733.1 458.2L1741 472.8L1748.5 486.9L1755.2 500L1761.1 511.4L1765.8 520.6L1767.4 523.7L1768.8 526.4L1770 528.7L1771.1 530.9L1772.1 533L1773.1 535.1L1774.2 537.5L1775.4 540.2L1777.2 544.5L1779.1 549.2L1781.1 554.1L1783.1 559.2L1785.1 564.5L1786.9 569.8L1788.7 575.1L1790.4 580.2L1791.9 585.2L1793.3 590.3L1794.7 595.4L1796 600.5L1797.2 605.6L1798.3 610.6L1799.4 615.5L1800.4 620.3L1801.2 624.3L1802 628.2L1802.8 632L1803.4 635.8L1804.1 639.5L1804.6 643.2L1805.1 646.8L1805.4 650.3L1805.6 653.3L1805.7 656.2L1805.7 659L1805.6 661.8L1805.6 664.6L1805.5 667.3L1805.4 670.1L1805.4 672.9"/>
<path transform="translate(0 -0.9)" d="M232.1 1347.7L233.1 1342.7L234 1337.7L234.9 1332.8L235.9 1327.9L236.8 1322.9L237.8 1317.7L238.9 1312.4L240 1306.8L241.5 1299.3L243.2 1291.7L244.8 1283.7L246.6 1275.5L248.4 1267.1L250.4 1258.3L252.3 1249.2L254.4 1239.8L257.5 1225.8L261 1210.1L264.7 1193.3L268.5 1176.3L272.3 1159.6L275.7 1144L278.8 1130.2L281.3 1119L282.2 1114.8L283 1111.2L283.7 1108.1L284.3 1105.3L284.9 1102.4L285.6 1099.3L286.4 1095.7L287.3 1091.5L289.8 1080.1L292.9 1066L296.4 1050L300.1 1033L304 1015.5L307.8 998.5L311.4 982.6L314.6 968.6L316.7 959.7L318.7 951.4L320.7 943.4L322.6 935.7L324.5 928.2L326.3 920.9L328.2 913.5L330.1 906L331.8 899.1L333.5 892.7L335.1 886.4L336.7 880L338.4 873.5L340.2 866.7L342.2 859.2L344.3 851L348.6 834.6L353.5 815.3L359 794.2L364.7 772.1L370.5 749.9L376.1 728.7L381.3 709.5L385.8 693L388.1 684.8L390.2 677.5L392.2 670.9L394.1 664.6L396 658.4L398 651.9L400.1 644.9L402.5 637L406.6 623.2L411.3 607.4L416.4 590.3L421.7 572.7L426.9 555.3L431.8 538.9L436.2 524.2L440 512L441.7 506.6L443.3 501.6L444.7 497L446.1 492.7L447.4 488.7L448.7 484.9L449.9 481.4L451 478L451.7 475.9L452.4 473.9L453.1 472.1L453.7 470.3L454.3 468.6L454.9 467L455.5 465.5L456 464L456.3 463.1L456.7 462.2L457 461.4L457.3 460.6L457.6 459.8L457.9 459.1L458.2 458.3L458.5 457.5L458.8 456.7L459.2 455.8L459.5 455L459.9 454.2L460.2 453.4L460.6 452.6L461 451.8L461.5 451L462 450.3L462.5 449.6L463 448.9L463.5 448.2L464.1 447.5L464.7 446.9L465.3 446.2L466 445.5L466.9 444.6L467.9 443.7L469 442.9L470.1 442L471.3 441.1L472.5 440.2L473.8 439.4L475 438.5L476.4 437.5L477.9 436.6L479.3 435.7L480.8 434.8L482.4 433.9L484 432.9L485.8 432L487.6 431L490.4 429.5L493.6 428L496.9 426.5L500.4 424.9L503.9 423.3L507.4 421.7L510.9 420.1L514.2 418.5L517.2 417L520.1 415.5L522.9 414L525.8 412.5L528.6 410.9L531.6 409.4L534.6 407.8L537.7 406.2L541.6 404.2L545.7 402.1L549.9 400L554.2 397.8L558.5 395.7L562.8 393.5L567.1 391.5L571.2 389.5L574.9 387.8L578.6 386.1L582.2 384.4L585.8 382.8L589.4 381.2L593 379.6L596.7 378.1L600.3 376.5L603.9 375L607.4 373.5L610.9 372L614.4 370.6L618 369.1L621.7 367.7L625.6 366.1L629.8 364.5L636 362.1L642.7 359.6L649.7 357L657 354.4L664.5 351.7L671.9 349L679.4 346.4L686.6 343.9L693.7 341.5L700.8 339.1L707.9 336.7L715 334.4L722.1 332.1L729.2 329.8L736.3 327.4L743.4 325.1L750.5 322.7L757.6 320.2L764.7 317.8L771.8 315.3L778.8 312.8L785.9 310.5L793.1 308.2L800.2 306.1L807.3 304.1L814.3 302.3L821.4 300.6L828.5 298.9L835.7 297.3L842.8 295.7L849.9 294.1L857 292.5L864.1 290.9L871.2 289.3L878.3 287.8L885.4 286.2L892.5 284.7L899.6 283.3L906.7 281.9L913.8 280.5L920.9 279.2L928 278L935.1 276.8L942.2 275.6L949.3 274.5L956.4 273.4L963.5 272.3L970.6 271.2L977.7 270.1L984.8 269.1L991.9 268.1L999 267.1L1006.1 266.1L1013.2 265.1L1020.3 264.1L1027.4 263.2L1034.5 262.3L1041.6 261.3L1048.7 260.4L1055.8 259.4L1062.9 258.5L1070 257.7L1077.1 256.9L1084.2 256.2L1091.3 255.6L1098.4 255.1L1105.5 254.6L1112.6 254.2L1119.7 253.8L1126.8 253.4L1133.9 252.9L1141 252.4L1148.1 251.8L1155.2 251.2L1162.3 250.5L1169.4 249.8L1176.5 249.1L1183.6 248.5L1190.7 247.9L1197.8 247.4L1204.9 247L1212 246.6L1219.1 246.2L1226.2 245.9L1233.3 245.7L1240.4 245.4L1247.5 245.2L1254.6 244.9L1261.7 244.6L1268.8 244.4L1275.9 244.1L1283 243.9L1290.1 243.7L1297.2 243.5L1304.3 243.3L1311.4 243.2L1318.5 243.1L1325.6 243L1332.7 242.9L1339.8 242.9L1346.9 242.9L1354 242.9L1361.1 243L1368.2 243.2L1375.3 243.4L1382.4 243.6L1389.5 243.9L1396.6 244.2L1403.7 244.5L1410.8 245L1417.9 245.5L1425 246.2L1432.1 246.9L1439.3 247.7L1446.4 248.5L1453.5 249.5L1460.6 250.5L1467.7 251.8L1474.8 253.2L1481.8 254.9L1489 256.9L1496.2 259.1L1503.3 261.6L1510.4 264.2L1517.5 267L1524.6 270L1531.6 273L1538.6 276.2L1545.8 279.6L1553 283.1L1560.2 286.8L1567.3 290.6L1574.4 294.6L1581.4 298.7L1588.4 303L1595.4 307.5L1602.7 312.4L1609.9 317.4L1617.2 322.6L1624.3 328L1631.4 333.6L1638.4 339.4L1645.4 345.4L1652.2 351.8L1659.6 359.1L1667 366.7L1674.3 374.5L1681.4 382.7L1688.5 391.1L1695.4 399.9L1702.3 409L1709 418.4L1716.9 430.4L1725 443.9L1733.1 458.2L1741 472.8L1748.5 486.9L1755.2 500L1761.1 511.4L1765.8 520.6L1767.4 523.7L1768.8 526.4L1770 528.7L1771.1 530.9L1772.1 533L1773.1 535.1L1774.2 537.5L1775.4 540.2L1777.2 544.5L1779.1 549.2L1781.1 554.1L1783.1 559.2L1785.1 564.5L1786.9 569.8L1788.7 575.1L1790.4 580.2L1791.9 585.2L1793.3 590.3L1794.7 595.4L1796 600.5L1797.2 605.6L1798.3 610.6L1799.4 615.5L1800.4 620.3L1801.2 624.3L1802 628.2L1802.8 632L1803.4 635.8L1804.1 639.5L1804.6 643.2L1805.1 646.8L1805.4 650.3L1805.6 653.3L1805.7 656.2L1805.7 659L1805.6 661.8L1805.6 664.6L1805.5 667.3L1805.4 670.1L1805.4 672.9"/>
</g>
<path d="M232.1 1347.7L233.1 1342.7L234 1337.7L234.9 1332.8L235.9 1327.9L236.8 1322.9L237.8 1317.7L238.9 1312.4L240 1306.8L241.5 1299.3L243.2 1291.7L244.8 1283.7L246.6 1275.5L248.4 1267.1L250.4 1258.3L252.3 1249.2L254.4 1239.8L257.5 1225.8L261 1210.1L264.7 1193.3L268.5 1176.3L272.3 1159.6L275.7 1144L278.8 1130.2L281.3 1119L282.2 1114.8L283 1111.2L283.7 1108.1L284.3 1105.3L284.9 1102.4L285.6 1099.3L286.4 1095.7L287.3 1091.5L289.8 1080.1L292.9 1066L296.4 1050L300.1 1033L304 1015.5L307.8 998.5L311.4 982.6L314.6 968.6L316.7 959.7L318.7 951.4L320.7 943.4L322.6 935.7L324.5 928.2L326.3 920.9L328.2 913.5L330.1 906L331.8 899.1L333.5 892.7L335.1 886.4L336.7 880L338.4 873.5L340.2 866.7L342.2 859.2L344.3 851L348.6 834.6L353.5 815.3L359 794.2L364.7 772.1L370.5 749.9L376.1 728.7L381.3 709.5L385.8 693L388.1 684.8L390.2 677.5L392.2 670.9L394.1 664.6L396 658.4L398 651.9L400.1 644.9L402.5 637L406.6 623.2L411.3 607.4L416.4 590.3L421.7 572.7L426.9 555.3L431.8 538.9L436.2 524.2L440 512" fill="none" stroke="#008080" stroke-width="13.4"/>
<g stroke-linejoin="miter" stroke-linecap="butt">
<path d="M213.7 1336.9L250.5 1336.9L232.1 1369Z" fill="#fff" stroke="#008080" stroke-width="3.3"/>
<path d="M268.9 1080.7L305.7 1080.7L287.3 1112.8Z" fill="#fff" stroke="#008080" stroke-width="3.3"/>
<path d="M325.9 840.2L362.7 840.2L344.3 872.3Z" fill="#fff" stroke="#008080" stroke-width="3.3"/>
<path d="M384.1 626.2L420.9 626.2L402.5 658.3Z" fill="#fff" stroke="#008080" stroke-width="3.3"/>
<path d="M439.8 448.2L476.6 448.2L458.2 480.3Z" fill="#fff" stroke="#008080" stroke-width="3.3"/>
<path d="M495.6 407.8L532.4 407.8L514 439.9Z" fill="#fff" stroke="#008080" stroke-width="3.3"/>
<path d="M552.2 379L589 379L570.6 411.1Z" fill="#fff" stroke="#008080" stroke-width="3.3"/>
<path d="M608.8 354.7L645.6 354.7L627.2 386.8Z" fill="#fff" stroke="#008080" stroke-width="3.3"/>
<path d="M665.5 334L702.3 334L683.9 366.1Z" fill="#fff" stroke="#008080" stroke-width="3.3"/>
<path d="M722.2 315.2L759 315.2L740.6 347.3Z" fill="#fff" stroke="#008080" stroke-width="3.3"/>
<path d="M779 296.1L815.8 296.1L797.4 328.2Z" fill="#fff" stroke="#008080" stroke-width="3.3"/>
<path d="M835.9 282.3L872.7 282.3L854.3 314.4Z" fill="#fff" stroke="#008080" stroke-width="3.3"/>
<path d="M892.7 270.2L929.5 270.2L911.1 302.3Z" fill="#fff" stroke="#008080" stroke-width="3.3"/>
<path d="M949.7 260.8L986.5 260.8L968.1 292.9Z" fill="#fff" stroke="#008080" stroke-width="3.3"/>
<path d="M1006.6 252.7L1043.4 252.7L1025 284.8Z" fill="#fff" stroke="#008080" stroke-width="3.3"/>
<path d="M1063.6 245.6L1100.4 245.6L1082 277.7Z" fill="#fff" stroke="#008080" stroke-width="3.3"/>
<path d="M1120.6 241.7L1157.4 241.7L1139 273.8Z" fill="#fff" stroke="#008080" stroke-width="3.3"/>
<path d="M1177.7 236.7L1214.5 236.7L1196.1 268.8Z" fill="#fff" stroke="#008080" stroke-width="3.3"/>
<path d="M1234.7 234.2L1271.5 234.2L1253.1 266.3Z" fill="#fff" stroke="#008080" stroke-width="3.3"/>
<path d="M1291.8 232.4L1328.6 232.4L1310.2 264.5Z" fill="#fff" stroke="#008080" stroke-width="3.3"/>
<path d="M1348.9 232.4L1385.7 232.4L1367.3 264.5Z" fill="#fff" stroke="#008080" stroke-width="3.3"/>
<path d="M1406 235.3L1442.8 235.3L1424.4 267.4Z" fill="#fff" stroke="#008080" stroke-width="3.3"/>
<path d="M1463 244L1499.8 244L1481.4 276.1Z" fill="#fff" stroke="#008080" stroke-width="3.3"/>
<path d="M1520.1 265.4L1556.9 265.4L1538.5 297.5Z" fill="#fff" stroke="#008080" stroke-width="3.3"/>
<path d="M1577.2 296.8L1614 296.8L1595.6 328.9Z" fill="#fff" stroke="#008080" stroke-width="3.3"/>
<path d="M1634.3 341.5L1671.1 341.5L1652.7 373.6Z" fill="#fff" stroke="#008080" stroke-width="3.3"/>
<path d="M1691.4 408.8L1728.2 408.8L1709.8 440.9Z" fill="#fff" stroke="#008080" stroke-width="3.3"/>
<path d="M1748.4 511.7L1785.2 511.7L1766.8 543.8Z" fill="#fff" stroke="#008080" stroke-width="3.3"/>
</g>
<g fill="none" stroke="#ff00ff" stroke-width="11">
<path d="M232.5 1340.6L239.1 1304.7L245.8 1268.9L252.4 1233.2L259.1 1197.5L265.7 1161.6L272.4 1125.6L279 1089.3L285.7 1052.7L292.6 1013.6L299.5 973.5L306.4 932.8L313.2 892.1L320.2 851.8L327.3 812.2L334.5 773.8L342 737.1L348.5 707.2L355.1 677.8L361.8 648.9L368.6 620.7L375.5 593.3L382.5 566.9L389.4 541.5L396.4 517.2L402 498.9L407.8 480.6L413.8 462.7L419.7 445.5L425.4 429.3L430.8 414.4L435.8 401L440 389.6L441.8 384.7L443.5 380.2L445.1 376L446.6 372.2L448 368.7L449.4 365.4L450.7 362.4L452.1 359.7L452.8 358.3L453.5 356.9L454.2 355.7L454.8 354.6L455.5 353.5L456.2 352.5L457.1 351.6L458 350.6L459.2 349.6L460.4 348.6L461.8 347.8L463.2 346.9L464.7 346.1L466.4 345.3L468.1 344.5L470 343.6L473.5 342L477.5 340.4L481.8 338.7L486.4 336.9L491.3 335.2L496.3 333.4L501.3 331.7L506.4 330L512.7 328L519.3 326L526.2 324.1L533.2 322.1L540.3 320.1L547.5 318.1L554.5 316L561.5 313.8L568.5 311.5L575.5 309L582.4 306.5L589.4 303.9L596.4 301.3L603.3 298.7L610.3 296.2L617.2 293.7L624 291.3L630.8 288.9L637.5 286.5L644.3 284.2L651 281.8L657.8 279.5L664.6 277.2L671.4 275L678.3 272.8L685.1 270.6L692 268.5L698.9 266.3L705.9 264.2L712.8 262.1L719.7 260.1L726.6 258L733.5 255.9L740.4 253.9L747.3 251.8L754.2 249.8L761.1 247.8L768 245.8L774.9 243.9L781.8 242L788.7 240.1L795.6 238.3L802.5 236.4L809.4 234.6L816.3 232.9L823.2 231.2L830.1 229.6L837 228L843.9 226.5L850.8 225.2L857.7 223.9L864.6 222.7L871.5 221.4L878.4 220.2L885.3 219L892.2 217.8L899.1 216.5L906 215.2L912.9 214L919.8 212.7L926.7 211.4L933.6 210.2L940.5 209L947.4 207.8L954.3 206.7L961.2 205.6L968.1 204.5L975 203.5L981.9 202.5L988.8 201.5L995.7 200.6L1002.6 199.7L1009.5 198.9L1016.4 198.1L1023.3 197.4L1030.2 196.8L1037.1 196.1L1044 195.5L1050.9 194.8L1057.8 194L1064.7 193.2L1071.6 192.3L1078.5 191.4L1085.4 190.4L1092.3 189.5L1099.2 188.6L1106.1 187.8L1113 187L1119.9 186.3L1126.8 185.7L1133.7 185.1L1140.6 184.6L1147.5 184.1L1154.4 183.6L1161.3 183.2L1168.2 182.7L1175.1 182.2L1182 181.8L1188.9 181.3L1195.8 180.9L1202.7 180.5L1209.6 180.1L1216.5 179.8L1223.4 179.5L1230.3 179.2L1237.2 178.9L1244.1 178.6L1251 178.4L1257.9 178.2L1264.8 178.1L1271.7 178.1L1278.6 178.2L1285.5 178.4L1292.4 178.7L1299.3 179L1306.2 179.5L1313.1 180L1320 180.6L1326.9 181.3L1333.8 182.1L1340.7 182.9L1347.7 183.8L1354.6 184.8L1361.5 185.8L1368.4 187L1375.3 188.3L1382.2 189.8L1389 191.5L1396 193.4L1403 195.5L1409.9 197.7L1416.8 200.1L1423.7 202.7L1430.6 205.4L1437.4 208.4L1444.2 211.5L1451.3 215L1458.3 218.8L1465.2 222.8L1472.1 227L1479 231.4L1485.8 235.9L1492.6 240.6L1499.4 245.3L1506.5 250.4L1513.5 255.5L1520.5 260.9L1527.5 266.3L1534.4 272L1541.2 277.9L1547.9 284L1554.6 290.4L1561.8 297.7L1569 305.3L1576 313.2L1583 321.3L1589.8 329.7L1596.6 338.4L1603.3 347.4L1609.8 356.7L1617.4 368.2L1625.1 380.8L1632.8 394L1640.3 407.4L1647.5 420.8L1654.1 433.6L1660 445.5L1665 456.2L1667.6 462.2L1669.9 467.7L1671.9 473L1673.7 478L1675.4 483L1677 487.8L1678.6 492.7L1680.2 497.7L1681.8 502.5L1683.4 507.2L1684.9 511.9L1686.4 516.6L1687.9 521.2L1689.2 525.9L1690.4 530.6L1691.5 535.3L1692.4 539.9L1693.3 544.5L1694 549.1L1694.6 553.7L1695.2 558.3L1695.7 563L1696.1 567.8L1696.5 572.8L1696.9 578.6L1697.1 584.5L1697.2 590.5L1697.3 596.7L1697.3 603L1697.3 609.4L1697.3 616L1697.3 622.9L1697.4 631.9L1697.4 641.4L1697.4 651.2L1697.4 661.2L1697.3 671.4L1697.3 681.7L1697.3 691.8L1697.3 701.8"/>
<path transform="translate(0 1)" d="M232.5 1340.6L239.1 1304.7L245.8 1268.9L252.4 1233.2L259.1 1197.5L265.7 1161.6L272.4 1125.6L279 1089.3L285.7 1052.7L292.6 1013.6L299.5 973.5L306.4 932.8L313.2 892.1L320.2 851.8L327.3 812.2L334.5 773.8L342 737.1L348.5 707.2L355.1 677.8L361.8 648.9L368.6 620.7L375.5 593.3L382.5 566.9L389.4 541.5L396.4 517.2L402 498.9L407.8 480.6L413.8 462.7L419.7 445.5L425.4 429.3L430.8 414.4L435.8 401L440 389.6L441.8 384.7L443.5 380.2L445.1 376L446.6 372.2L448 368.7L449.4 365.4L450.7 362.4L452.1 359.7L452.8 358.3L453.5 356.9L454.2 355.7L454.8 354.6L455.5 353.5L456.2 352.5L457.1 351.6L458 350.6L459.2 349.6L460.4 348.6L461.8 347.8L463.2 346.9L464.7 346.1L466.4 345.3L468.1 344.5L470 343.6L473.5 342L477.5 340.4L481.8 338.7L486.4 336.9L491.3 335.2L496.3 333.4L501.3 331.7L506.4 330L512.7 328L519.3 326L526.2 324.1L533.2 322.1L540.3 320.1L547.5 318.1L554.5 316L561.5 313.8L568.5 311.5L575.5 309L582.4 306.5L589.4 303.9L596.4 301.3L603.3 298.7L610.3 296.2L617.2 293.7L624 291.3L630.8 288.9L637.5 286.5L644.3 284.2L651 281.8L657.8 279.5L664.6 277.2L671.4 275L678.3 272.8L685.1 270.6L692 268.5L698.9 266.3L705.9 264.2L712.8 262.1L719.7 260.1L726.6 258L733.5 255.9L740.4 253.9L747.3 251.8L754.2 249.8L761.1 247.8L768 245.8L774.9 243.9L781.8 242L788.7 240.1L795.6 238.3L802.5 236.4L809.4 234.6L816.3 232.9L823.2 231.2L830.1 229.6L837 228L843.9 226.5L850.8 225.2L857.7 223.9L864.6 222.7L871.5 221.4L878.4 220.2L885.3 219L892.2 217.8L899.1 216.5L906 215.2L912.9 214L919.8 212.7L926.7 211.4L933.6 210.2L940.5 209L947.4 207.8L954.3 206.7L961.2 205.6L968.1 204.5L975 203.5L981.9 202.5L988.8 201.5L995.7 200.6L1002.6 199.7L1009.5 198.9L1016.4 198.1L1023.3 197.4L1030.2 196.8L1037.1 196.1L1044 195.5L1050.9 194.8L1057.8 194L1064.7 193.2L1071.6 192.3L1078.5 191.4L1085.4 190.4L1092.3 189.5L1099.2 188.6L1106.1 187.8L1113 187L1119.9 186.3L1126.8 185.7L1133.7 185.1L1140.6 184.6L1147.5 184.1L1154.4 183.6L1161.3 183.2L1168.2 182.7L1175.1 182.2L1182 181.8L1188.9 181.3L1195.8 180.9L1202.7 180.5L1209.6 180.1L1216.5 179.8L1223.4 179.5L1230.3 179.2L1237.2 178.9L1244.1 178.6L1251 178.4L1257.9 178.2L1264.8 178.1L1271.7 178.1L1278.6 178.2L1285.5 178.4L1292.4 178.7L1299.3 179L1306.2 179.5L1313.1 180L1320 180.6L1326.9 181.3L1333.8 182.1L1340.7 182.9L1347.7 183.8L1354.6 184.8L1361.5 185.8L1368.4 187L1375.3 188.3L1382.2 189.8L1389 191.5L1396 193.4L1403 195.5L1409.9 197.7L1416.8 200.1L1423.7 202.7L1430.6 205.4L1437.4 208.4L1444.2 211.5L1451.3 215L1458.3 218.8L1465.2 222.8L1472.1 227L1479 231.4L1485.8 235.9L1492.6 240.6L1499.4 245.3L1506.5 250.4L1513.5 255.5L1520.5 260.9L1527.5 266.3L1534.4 272L1541.2 277.9L1547.9 284L1554.6 290.4L1561.8 297.7L1569 305.3L1576 313.2L1583 321.3L1589.8 329.7L1596.6 338.4L1603.3 347.4L1609.8 356.7L1617.4 368.2L1625.1 380.8L1632.8 394L1640.3 407.4L1647.5 420.8L1654.1 433.6L1660 445.5L1665 456.2L1667.6 462.2L1669.9 467.7L1671.9 473L1673.7 478L1675.4 483L1677 487.8L1678.6 492.7L1680.2 497.7L1681.8 502.5L1683.4 507.2L1684.9 511.9L1686.4 516.6L1687.9 521.2L1689.2 525.9L1690.4 530.6L1691.5 535.3L1692.4 539.9L1693.3 544.5L1694 549.1L1694.6 553.7L1695.2 558.3L1695.7 563L1696.1 567.8L1696.5 572.8L1696.9 578.6L1697.1 584.5L1697.2 590.5L1697.3 596.7L1697.3 603L1697.3 609.4L1697.3 616L1697.3 622.9L1697.4 631.9L1697.4 641.4L1697.4 651.2L1697.4 661.2L1697.3 671.4L1697.3 681.7L1697.3 691.8L1697.3 701.8"/>
<path transform="translate(0 -1)" d="M232.5 1340.6L239.1 1304.7L245.8 1268.9L252.4 1233.2L259.1 1197.5L265.7 1161.6L272.4 1125.6L279 1089.3L285.7 1052.7L292.6 1013.6L299.5 973.5L306.4 932.8L313.2 892.1L320.2 851.8L327.3 812.2L334.5 773.8L342 737.1L348.5 707.2L355.1 677.8L361.8 648.9L368.6 620.7L375.5 593.3L382.5 566.9L389.4 541.5L396.4 517.2L402 498.9L407.8 480.6L413.8 462.7L419.7 445.5L425.4 429.3L430.8 414.4L435.8 401L440 389.6L441.8 384.7L443.5 380.2L445.1 376L446.6 372.2L448 368.7L449.4 365.4L450.7 362.4L452.1 359.7L452.8 358.3L453.5 356.9L454.2 355.7L454.8 354.6L455.5 353.5L456.2 352.5L457.1 351.6L458 350.6L459.2 349.6L460.4 348.6L461.8 347.8L463.2 346.9L464.7 346.1L466.4 345.3L468.1 344.5L470 343.6L473.5 342L477.5 340.4L481.8 338.7L486.4 336.9L491.3 335.2L496.3 333.4L501.3 331.7L506.4 330L512.7 328L519.3 326L526.2 324.1L533.2 322.1L540.3 320.1L547.5 318.1L554.5 316L561.5 313.8L568.5 311.5L575.5 309L582.4 306.5L589.4 303.9L596.4 301.3L603.3 298.7L610.3 296.2L617.2 293.7L624 291.3L630.8 288.9L637.5 286.5L644.3 284.2L651 281.8L657.8 279.5L664.6 277.2L671.4 275L678.3 272.8L685.1 270.6L692 268.5L698.9 266.3L705.9 264.2L712.8 262.1L719.7 260.1L726.6 258L733.5 255.9L740.4 253.9L747.3 251.8L754.2 249.8L761.1 247.8L768 245.8L774.9 243.9L781.8 242L788.7 240.1L795.6 238.3L802.5 236.4L809.4 234.6L816.3 232.9L823.2 231.2L830.1 229.6L837 228L843.9 226.5L850.8 225.2L857.7 223.9L864.6 222.7L871.5 221.4L878.4 220.2L885.3 219L892.2 217.8L899.1 216.5L906 215.2L912.9 214L919.8 212.7L926.7 211.4L933.6 210.2L940.5 209L947.4 207.8L954.3 206.7L961.2 205.6L968.1 204.5L975 203.5L981.9 202.5L988.8 201.5L995.7 200.6L1002.6 199.7L1009.5 198.9L1016.4 198.1L1023.3 197.4L1030.2 196.8L1037.1 196.1L1044 195.5L1050.9 194.8L1057.8 194L1064.7 193.2L1071.6 192.3L1078.5 191.4L1085.4 190.4L1092.3 189.5L1099.2 188.6L1106.1 187.8L1113 187L1119.9 186.3L1126.8 185.7L1133.7 185.1L1140.6 184.6L1147.5 184.1L1154.4 183.6L1161.3 183.2L1168.2 182.7L1175.1 182.2L1182 181.8L1188.9 181.3L1195.8 180.9L1202.7 180.5L1209.6 180.1L1216.5 179.8L1223.4 179.5L1230.3 179.2L1237.2 178.9L1244.1 178.6L1251 178.4L1257.9 178.2L1264.8 178.1L1271.7 178.1L1278.6 178.2L1285.5 178.4L1292.4 178.7L1299.3 179L1306.2 179.5L1313.1 180L1320 180.6L1326.9 181.3L1333.8 182.1L1340.7 182.9L1347.7 183.8L1354.6 184.8L1361.5 185.8L1368.4 187L1375.3 188.3L1382.2 189.8L1389 191.5L1396 193.4L1403 195.5L1409.9 197.7L1416.8 200.1L1423.7 202.7L1430.6 205.4L1437.4 208.4L1444.2 211.5L1451.3 215L1458.3 218.8L1465.2 222.8L1472.1 227L1479 231.4L1485.8 235.9L1492.6 240.6L1499.4 245.3L1506.5 250.4L1513.5 255.5L1520.5 260.9L1527.5 266.3L1534.4 272L1541.2 277.9L1547.9 284L1554.6 290.4L1561.8 297.7L1569 305.3L1576 313.2L1583 321.3L1589.8 329.7L1596.6 338.4L1603.3 347.4L1609.8 356.7L1617.4 368.2L1625.1 380.8L1632.8 394L1640.3 407.4L1647.5 420.8L1654.1 433.6L1660 445.5L1665 456.2L1667.6 462.2L1669.9 467.7L1671.9 473L1673.7 478L1675.4 483L1677 487.8L1678.6 492.7L1680.2 497.7L1681.8 502.5L1683.4 507.2L1684.9 511.9L1686.4 516.6L1687.9 521.2L1689.2 525.9L1690.4 530.6L1691.5 535.3L1692.4 539.9L1693.3 544.5L1694 549.1L1694.6 553.7L1695.2 558.3L1695.7 563L1696.1 567.8L1696.5 572.8L1696.9 578.6L1697.1 584.5L1697.2 590.5L1697.3 596.7L1697.3 603L1697.3 609.4L1697.3 616L1697.3 622.9L1697.4 631.9L1697.4 641.4L1697.4 651.2L1697.4 661.2L1697.3 671.4L1697.3 681.7L1697.3 691.8L1697.3 701.8"/>
</g>
<path d="M232.5 1340.6L239.1 1304.7L245.8 1268.9L252.4 1233.2L259.1 1197.5L265.7 1161.6L272.4 1125.6L279 1089.3L285.7 1052.7L292.6 1013.6L299.5 973.5L306.4 932.8L313.2 892.1L320.2 851.8L327.3 812.2L334.5 773.8L342 737.1L348.5 707.2L355.1 677.8L361.8 648.9L368.6 620.7L375.5 593.3L382.5 566.9L389.4 541.5L396.4 517.2L402 498.9L407.8 480.6L413.8 462.7L419.7 445.5L425.4 429.3L430.8 414.4L435.8 401L440 389.6" fill="none" stroke="#ff00ff" stroke-width="13.4"/>
<g stroke-linejoin="miter" stroke-linecap="butt">
<path d="M232.5 1324.3L236.7 1337.2L250.3 1337.2L239.3 1345.2L243.5 1358.1L232.5 1350.1L221.5 1358.1L225.7 1345.2L214.7 1337.2L228.3 1337.2Z" fill="#fff" stroke="#ff00ff" stroke-width="3.3" stroke-linejoin="round"/>
<path d="M285.7 1036.4L289.9 1049.3L303.5 1049.3L292.5 1057.3L296.7 1070.2L285.7 1062.2L274.7 1070.2L278.9 1057.3L267.9 1049.3L281.5 1049.3Z" fill="#fff" stroke="#ff00ff" stroke-width="3.3" stroke-linejoin="round"/>
<path d="M342 720.8L346.2 733.7L359.8 733.7L348.8 741.7L353 754.6L342 746.6L331 754.6L335.2 741.7L324.2 733.7L337.8 733.7Z" fill="#fff" stroke="#ff00ff" stroke-width="3.3" stroke-linejoin="round"/>
<path d="M396.4 500.9L400.6 513.8L414.2 513.8L403.2 521.8L407.4 534.7L396.4 526.7L385.4 534.7L389.6 521.8L378.6 513.8L392.2 513.8Z" fill="#fff" stroke="#ff00ff" stroke-width="3.3" stroke-linejoin="round"/>
<path d="M452.1 343.4L456.3 356.3L469.9 356.3L458.9 364.3L463.1 377.2L452.1 369.2L441.1 377.2L445.3 364.3L434.3 356.3L447.9 356.3Z" fill="#fff" stroke="#ff00ff" stroke-width="3.3" stroke-linejoin="round"/>
<path d="M507 313.5L511.2 326.4L524.8 326.4L513.8 334.4L518 347.3L507 339.3L496 347.3L500.2 334.4L489.2 326.4L502.8 326.4Z" fill="#fff" stroke="#ff00ff" stroke-width="3.3" stroke-linejoin="round"/>
<path d="M561.9 297.4L566.1 310.3L579.7 310.3L568.7 318.3L572.9 331.2L561.9 323.2L550.9 331.2L555.1 318.3L544.2 310.3L557.7 310.3Z" fill="#fff" stroke="#ff00ff" stroke-width="3.3" stroke-linejoin="round"/>
<path d="M616.8 277.5L621 290.5L634.6 290.5L623.6 298.4L627.8 311.4L616.8 303.4L605.8 311.4L610 298.4L599.1 290.5L612.6 290.5Z" fill="#fff" stroke="#ff00ff" stroke-width="3.3" stroke-linejoin="round"/>
<path d="M671.7 258.6L675.9 271.5L689.5 271.5L678.5 279.5L682.7 292.4L671.7 284.4L660.7 292.4L664.9 279.5L653.9 271.5L667.5 271.5Z" fill="#fff" stroke="#ff00ff" stroke-width="3.3" stroke-linejoin="round"/>
<path d="M726.6 241.7L730.8 254.6L744.4 254.6L733.4 262.6L737.6 275.5L726.6 267.6L715.6 275.5L719.8 262.6L708.8 254.6L722.4 254.6Z" fill="#fff" stroke="#ff00ff" stroke-width="3.3" stroke-linejoin="round"/>
<path d="M781.4 225.8L785.6 238.7L799.2 238.7L788.2 246.7L792.4 259.6L781.4 251.6L770.4 259.6L774.6 246.7L763.7 238.7L777.2 238.7Z" fill="#fff" stroke="#ff00ff" stroke-width="3.3" stroke-linejoin="round"/>
<path d="M836.3 211.9L840.5 224.8L854.1 224.8L843.1 232.8L847.3 245.7L836.3 237.7L825.3 245.7L829.5 232.8L818.5 224.8L832.1 224.8Z" fill="#fff" stroke="#ff00ff" stroke-width="3.3" stroke-linejoin="round"/>
<path d="M891.2 201.7L895.4 214.6L909 214.6L898 222.6L902.2 235.5L891.2 227.5L880.2 235.5L884.4 222.6L873.4 214.6L887 214.6Z" fill="#fff" stroke="#ff00ff" stroke-width="3.3" stroke-linejoin="round"/>
<path d="M946.1 191.7L950.3 204.6L963.9 204.6L952.9 212.6L957.1 225.5L946.1 217.6L935.1 225.5L939.3 212.6L928.3 204.6L941.9 204.6Z" fill="#fff" stroke="#ff00ff" stroke-width="3.3" stroke-linejoin="round"/>
<path d="M1001 183.6L1005.2 196.5L1018.8 196.5L1007.8 204.5L1012 217.4L1001 209.4L990 217.4L994.2 204.5L983.2 196.5L996.8 196.5Z" fill="#fff" stroke="#ff00ff" stroke-width="3.3" stroke-linejoin="round"/>
<path d="M1056 177.9L1060.2 190.8L1073.8 190.8L1062.8 198.8L1067 211.7L1056 203.7L1045 211.7L1049.2 198.8L1038.2 190.8L1051.8 190.8Z" fill="#fff" stroke="#ff00ff" stroke-width="3.3" stroke-linejoin="round"/>
<path d="M1111 170.9L1115.2 183.8L1128.8 183.8L1117.8 191.8L1122 204.7L1111 196.8L1100.1 204.7L1104.3 191.8L1093.3 183.8L1106.8 183.8Z" fill="#fff" stroke="#ff00ff" stroke-width="3.3" stroke-linejoin="round"/>
<path d="M1166.1 166.5L1170.3 179.5L1183.9 179.5L1172.9 187.4L1177.1 200.4L1166.1 192.4L1155.2 200.4L1159.3 187.4L1148.4 179.5L1161.9 179.5Z" fill="#fff" stroke="#ff00ff" stroke-width="3.3" stroke-linejoin="round"/>
<path d="M1221.3 163.3L1225.5 176.2L1239.1 176.2L1228.1 184.2L1232.3 197.1L1221.3 189.1L1210.3 197.1L1214.5 184.2L1203.5 176.2L1217.1 176.2Z" fill="#fff" stroke="#ff00ff" stroke-width="3.3" stroke-linejoin="round"/>
<path d="M1276.6 161.9L1280.8 174.8L1294.3 174.8L1283.3 182.8L1287.5 195.7L1276.6 187.7L1265.6 195.7L1269.8 182.8L1258.8 174.8L1272.4 174.8Z" fill="#fff" stroke="#ff00ff" stroke-width="3.3" stroke-linejoin="round"/>
<path d="M1331.9 165.6L1336.1 178.5L1349.7 178.5L1338.7 186.5L1342.9 199.4L1331.9 191.4L1320.9 199.4L1325.1 186.5L1314.1 178.5L1327.7 178.5Z" fill="#fff" stroke="#ff00ff" stroke-width="3.3" stroke-linejoin="round"/>
<path d="M1387.3 174.8L1391.5 187.7L1405.1 187.7L1394.1 195.7L1398.3 208.6L1387.3 200.6L1376.3 208.6L1380.5 195.7L1369.5 187.7L1383.1 187.7Z" fill="#fff" stroke="#ff00ff" stroke-width="3.3" stroke-linejoin="round"/>
<path d="M1442.9 194.6L1447.1 207.5L1460.6 207.5L1449.7 215.5L1453.9 228.4L1442.9 220.4L1431.9 228.4L1436.1 215.5L1425.1 207.5L1438.7 207.5Z" fill="#fff" stroke="#ff00ff" stroke-width="3.3" stroke-linejoin="round"/>
<path d="M1498.5 228.4L1502.7 241.3L1516.3 241.3L1505.3 249.3L1509.5 262.2L1498.5 254.2L1487.5 262.2L1491.7 249.3L1480.7 241.3L1494.3 241.3Z" fill="#fff" stroke="#ff00ff" stroke-width="3.3" stroke-linejoin="round"/>
<path d="M1554.3 273.8L1558.5 286.7L1572.1 286.7L1561.1 294.7L1565.3 307.6L1554.3 299.7L1543.3 307.6L1547.5 294.7L1536.5 286.7L1550.1 286.7Z" fill="#fff" stroke="#ff00ff" stroke-width="3.3" stroke-linejoin="round"/>
<path d="M1610.2 341L1614.4 353.9L1628 353.9L1617 361.9L1621.2 374.9L1610.2 366.9L1599.2 374.9L1603.4 361.9L1592.4 353.9L1606 353.9Z" fill="#fff" stroke="#ff00ff" stroke-width="3.3" stroke-linejoin="round"/>
<path d="M1666.3 442.8L1670.5 455.7L1684.1 455.7L1673.1 463.7L1677.3 476.6L1666.3 468.6L1655.3 476.6L1659.5 463.7L1648.5 455.7L1662.1 455.7Z" fill="#fff" stroke="#ff00ff" stroke-width="3.3" stroke-linejoin="round"/>
</g>
<g fill="none" stroke="#808000" stroke-width="10.8">
<path d="M232.6 1347.8L233.3 1342.6L234.1 1337.3L234.9 1332L235.6 1326.6L236.4 1321.4L237.1 1316.4L237.8 1311.7L238.5 1307.5L238.9 1305L239.3 1302.8L239.6 1300.8L240 1298.9L240.3 1296.9L240.7 1294.8L241.1 1292.6L241.6 1290L242.5 1285.1L243.4 1279.8L244.5 1274L245.6 1267.9L246.8 1261.3L248 1254.5L249.3 1247.3L250.7 1239.8L253.1 1226.8L255.9 1211.8L258.9 1195.5L262 1178.7L265.1 1162L268.1 1146L270.9 1131.4L273.2 1119L274.4 1112.9L275.4 1107.6L276.3 1102.7L277.2 1098.1L278.1 1093.6L279 1088.8L280 1083.5L281.1 1077.5L283.1 1066.4L285.1 1054.2L287.3 1041L289.6 1027L292.1 1012.6L294.6 997.9L297.3 983.1L300.2 968.6L303.6 952.4L307.2 936.2L311.1 919.9L315 903.2L319.1 886.2L323.4 868.7L327.7 850.6L332 831.7L337.7 806L343.7 778.8L349.9 750.4L356.2 721.2L362.7 691.7L369.1 662.2L375.6 633.1L382.1 604.8L388.5 577.4L395.3 549L402.3 520.3L409.3 491.9L416 464.6L422.3 439L428 415.9L432.8 395.8L435 386L437 376.6L438.8 367.6L440.5 359.2L442.1 351.6L443.7 344.9L445.3 339.3L447 335L447.6 333.7L448.3 332.5L448.9 331.4L449.5 330.4L450.1 329.6L450.7 329L451.3 328.6L451.9 328.5L452.5 328.9L452.9 329.8L453.3 331.1L453.7 332.6L454.2 334.2L454.8 335.6L455.5 336.8L456.5 337.6L458.7 338L461.4 337.8L464.5 337L468 335.9L471.7 334.5L475.7 333L479.6 331.6L483.6 330.5L489.2 329.2L495.2 328L501.6 326.8L508.1 325.5L514.8 324.1L521.5 322.5L528 320.8L534.4 318.8L540.8 316.4L547.2 313.7L553.6 310.7L559.9 307.6L566.2 304.4L572.5 301.2L578.9 298.1L585.2 295.1L591.5 292.2L597.9 289.3L604.2 286.3L610.6 283.4L616.9 280.6L623.3 277.8L629.7 275.1L636.1 272.5L642.4 270.1L648.7 267.8L655.1 265.6L661.4 263.4L667.8 261.3L674.2 259.2L680.5 257.1L686.9 255L693.2 252.9L699.6 250.7L705.9 248.6L712.3 246.5L718.6 244.4L725 242.2L731.3 240.1L737.7 238L744 235.9L750.4 233.7L756.7 231.6L763.1 229.4L769.4 227.3L775.8 225.2L782.1 223.1L788.5 221L794.8 218.9L801.2 216.9L807.6 214.8L813.9 212.7L820.3 210.7L826.6 208.8L833 206.9L839.4 205.1L845.7 203.4L852.1 201.8L858.4 200.2L864.8 198.7L871.1 197.2L877.5 195.8L883.8 194.4L890.2 193.1L896.5 191.8L902.9 190.6L909.2 189.4L915.6 188.2L921.9 187.1L928.3 186L934.6 185L941 183.9L947.4 182.9L953.7 181.9L960.1 180.9L966.4 180L972.8 179.1L979.2 178.2L985.5 177.3L991.9 176.4L998.3 175.5L1004.6 174.6L1010.9 173.6L1017.3 172.7L1023.6 171.8L1030 171L1036.3 170.1L1042.7 169.3L1049 168.5L1055.4 167.8L1061.7 167.1L1068.1 166.5L1074.4 165.8L1080.8 165.2L1087.1 164.5L1093.5 163.8L1099.8 163.1L1106.2 162.3L1112.5 161.6L1118.9 160.8L1125.2 160L1131.6 159.3L1137.9 158.7L1144.3 158.1L1150.7 157.6L1157 157.1L1163.4 156.7L1169.7 156.3L1176.1 156L1182.5 155.7L1188.8 155.4L1195.2 155.1L1201.6 154.8L1207.9 154.5L1214.3 154.3L1220.6 154L1227 153.9L1233.3 153.7L1239.7 153.7L1246 153.8L1252.4 153.9L1258.7 154L1265.1 154.2L1271.5 154.4L1277.8 154.8L1284.2 155.4L1290.5 156.2L1296.8 157.3L1303.2 158.8L1309.7 160.6L1316.1 162.6L1322.4 164.8L1328.8 167.2L1335.1 169.8L1341.4 172.4L1347.7 175.1L1354.1 177.9L1360.6 180.9L1367 184L1373.4 187.2L1379.7 190.5L1386 194L1392.3 197.6L1398.5 201.4L1405 205.5L1411.5 209.8L1417.9 214.2L1424.3 218.8L1430.6 223.6L1436.9 228.5L1443.1 233.6L1449.3 238.9L1455.9 244.9L1462.4 251L1468.9 257.5L1475.3 264.1L1481.6 270.9L1487.9 277.9L1494.1 285L1500.2 292.3L1506.8 300.4L1513.4 308.6L1519.9 317L1526.3 325.6L1532.6 334.5L1538.8 343.7L1545 353.1L1551 362.9L1558 375.1L1565.1 388.5L1572.2 402.6L1579.1 416.9L1585.6 430.9L1591.7 444.2L1597.2 456.4L1601.8 466.8L1604 471.8L1606 476.4L1607.8 480.6L1609.5 484.6L1611 488.5L1612.5 492.3L1613.9 496.1L1615.2 500.1L1616.4 503.9L1617.5 507.7L1618.6 511.4L1619.6 515.2L1620.5 518.9L1621.3 522.7L1622 526.4L1622.7 530.2L1623.3 534L1623.7 537.8L1624.1 541.6L1624.4 545.5L1624.7 549.3L1624.9 553L1625 556.7L1625.2 560.2L1625.3 563.1L1625.3 566L1625.3 568.7L1625.3 571.5L1625.3 574.2L1625.2 576.9L1625.2 579.6L1625.2 582.3"/>
<path transform="translate(0 1.2)" d="M232.6 1347.8L233.3 1342.6L234.1 1337.3L234.9 1332L235.6 1326.6L236.4 1321.4L237.1 1316.4L237.8 1311.7L238.5 1307.5L238.9 1305L239.3 1302.8L239.6 1300.8L240 1298.9L240.3 1296.9L240.7 1294.8L241.1 1292.6L241.6 1290L242.5 1285.1L243.4 1279.8L244.5 1274L245.6 1267.9L246.8 1261.3L248 1254.5L249.3 1247.3L250.7 1239.8L253.1 1226.8L255.9 1211.8L258.9 1195.5L262 1178.7L265.1 1162L268.1 1146L270.9 1131.4L273.2 1119L274.4 1112.9L275.4 1107.6L276.3 1102.7L277.2 1098.1L278.1 1093.6L279 1088.8L280 1083.5L281.1 1077.5L283.1 1066.4L285.1 1054.2L287.3 1041L289.6 1027L292.1 1012.6L294.6 997.9L297.3 983.1L300.2 968.6L303.6 952.4L307.2 936.2L311.1 919.9L315 903.2L319.1 886.2L323.4 868.7L327.7 850.6L332 831.7L337.7 806L343.7 778.8L349.9 750.4L356.2 721.2L362.7 691.7L369.1 662.2L375.6 633.1L382.1 604.8L388.5 577.4L395.3 549L402.3 520.3L409.3 491.9L416 464.6L422.3 439L428 415.9L432.8 395.8L435 386L437 376.6L438.8 367.6L440.5 359.2L442.1 351.6L443.7 344.9L445.3 339.3L447 335L447.6 333.7L448.3 332.5L448.9 331.4L449.5 330.4L450.1 329.6L450.7 329L451.3 328.6L451.9 328.5L452.5 328.9L452.9 329.8L453.3 331.1L453.7 332.6L454.2 334.2L454.8 335.6L455.5 336.8L456.5 337.6L458.7 338L461.4 337.8L464.5 337L468 335.9L471.7 334.5L475.7 333L479.6 331.6L483.6 330.5L489.2 329.2L495.2 328L501.6 326.8L508.1 325.5L514.8 324.1L521.5 322.5L528 320.8L534.4 318.8L540.8 316.4L547.2 313.7L553.6 310.7L559.9 307.6L566.2 304.4L572.5 301.2L578.9 298.1L585.2 295.1L591.5 292.2L597.9 289.3L604.2 286.3L610.6 283.4L616.9 280.6L623.3 277.8L629.7 275.1L636.1 272.5L642.4 270.1L648.7 267.8L655.1 265.6L661.4 263.4L667.8 261.3L674.2 259.2L680.5 257.1L686.9 255L693.2 252.9L699.6 250.7L705.9 248.6L712.3 246.5L718.6 244.4L725 242.2L731.3 240.1L737.7 238L744 235.9L750.4 233.7L756.7 231.6L763.1 229.4L769.4 227.3L775.8 225.2L782.1 223.1L788.5 221L794.8 218.9L801.2 216.9L807.6 214.8L813.9 212.7L820.3 210.7L826.6 208.8L833 206.9L839.4 205.1L845.7 203.4L852.1 201.8L858.4 200.2L864.8 198.7L871.1 197.2L877.5 195.8L883.8 194.4L890.2 193.1L896.5 191.8L902.9 190.6L909.2 189.4L915.6 188.2L921.9 187.1L928.3 186L934.6 185L941 183.9L947.4 182.9L953.7 181.9L960.1 180.9L966.4 180L972.8 179.1L979.2 178.2L985.5 177.3L991.9 176.4L998.3 175.5L1004.6 174.6L1010.9 173.6L1017.3 172.7L1023.6 171.8L1030 171L1036.3 170.1L1042.7 169.3L1049 168.5L1055.4 167.8L1061.7 167.1L1068.1 166.5L1074.4 165.8L1080.8 165.2L1087.1 164.5L1093.5 163.8L1099.8 163.1L1106.2 162.3L1112.5 161.6L1118.9 160.8L1125.2 160L1131.6 159.3L1137.9 158.7L1144.3 158.1L1150.7 157.6L1157 157.1L1163.4 156.7L1169.7 156.3L1176.1 156L1182.5 155.7L1188.8 155.4L1195.2 155.1L1201.6 154.8L1207.9 154.5L1214.3 154.3L1220.6 154L1227 153.9L1233.3 153.7L1239.7 153.7L1246 153.8L1252.4 153.9L1258.7 154L1265.1 154.2L1271.5 154.4L1277.8 154.8L1284.2 155.4L1290.5 156.2L1296.8 157.3L1303.2 158.8L1309.7 160.6L1316.1 162.6L1322.4 164.8L1328.8 167.2L1335.1 169.8L1341.4 172.4L1347.7 175.1L1354.1 177.9L1360.6 180.9L1367 184L1373.4 187.2L1379.7 190.5L1386 194L1392.3 197.6L1398.5 201.4L1405 205.5L1411.5 209.8L1417.9 214.2L1424.3 218.8L1430.6 223.6L1436.9 228.5L1443.1 233.6L1449.3 238.9L1455.9 244.9L1462.4 251L1468.9 257.5L1475.3 264.1L1481.6 270.9L1487.9 277.9L1494.1 285L1500.2 292.3L1506.8 300.4L1513.4 308.6L1519.9 317L1526.3 325.6L1532.6 334.5L1538.8 343.7L1545 353.1L1551 362.9L1558 375.1L1565.1 388.5L1572.2 402.6L1579.1 416.9L1585.6 430.9L1591.7 444.2L1597.2 456.4L1601.8 466.8L1604 471.8L1606 476.4L1607.8 480.6L1609.5 484.6L1611 488.5L1612.5 492.3L1613.9 496.1L1615.2 500.1L1616.4 503.9L1617.5 507.7L1618.6 511.4L1619.6 515.2L1620.5 518.9L1621.3 522.7L1622 526.4L1622.7 530.2L1623.3 534L1623.7 537.8L1624.1 541.6L1624.4 545.5L1624.7 549.3L1624.9 553L1625 556.7L1625.2 560.2L1625.3 563.1L1625.3 566L1625.3 568.7L1625.3 571.5L1625.3 574.2L1625.2 576.9L1625.2 579.6L1625.2 582.3"/>
<path transform="translate(0 -1.2)" d="M232.6 1347.8L233.3 1342.6L234.1 1337.3L234.9 1332L235.6 1326.6L236.4 1321.4L237.1 1316.4L237.8 1311.7L238.5 1307.5L238.9 1305L239.3 1302.8L239.6 1300.8L240 1298.9L240.3 1296.9L240.7 1294.8L241.1 1292.6L241.6 1290L242.5 1285.1L243.4 1279.8L244.5 1274L245.6 1267.9L246.8 1261.3L248 1254.5L249.3 1247.3L250.7 1239.8L253.1 1226.8L255.9 1211.8L258.9 1195.5L262 1178.7L265.1 1162L268.1 1146L270.9 1131.4L273.2 1119L274.4 1112.9L275.4 1107.6L276.3 1102.7L277.2 1098.1L278.1 1093.6L279 1088.8L280 1083.5L281.1 1077.5L283.1 1066.4L285.1 1054.2L287.3 1041L289.6 1027L292.1 1012.6L294.6 997.9L297.3 983.1L300.2 968.6L303.6 952.4L307.2 936.2L311.1 919.9L315 903.2L319.1 886.2L323.4 868.7L327.7 850.6L332 831.7L337.7 806L343.7 778.8L349.9 750.4L356.2 721.2L362.7 691.7L369.1 662.2L375.6 633.1L382.1 604.8L388.5 577.4L395.3 549L402.3 520.3L409.3 491.9L416 464.6L422.3 439L428 415.9L432.8 395.8L435 386L437 376.6L438.8 367.6L440.5 359.2L442.1 351.6L443.7 344.9L445.3 339.3L447 335L447.6 333.7L448.3 332.5L448.9 331.4L449.5 330.4L450.1 329.6L450.7 329L451.3 328.6L451.9 328.5L452.5 328.9L452.9 329.8L453.3 331.1L453.7 332.6L454.2 334.2L454.8 335.6L455.5 336.8L456.5 337.6L458.7 338L461.4 337.8L464.5 337L468 335.9L471.7 334.5L475.7 333L479.6 331.6L483.6 330.5L489.2 329.2L495.2 328L501.6 326.8L508.1 325.5L514.8 324.1L521.5 322.5L528 320.8L534.4 318.8L540.8 316.4L547.2 313.7L553.6 310.7L559.9 307.6L566.2 304.4L572.5 301.2L578.9 298.1L585.2 295.1L591.5 292.2L597.9 289.3L604.2 286.3L610.6 283.4L616.9 280.6L623.3 277.8L629.7 275.1L636.1 272.5L642.4 270.1L648.7 267.8L655.1 265.6L661.4 263.4L667.8 261.3L674.2 259.2L680.5 257.1L686.9 255L693.2 252.9L699.6 250.7L705.9 248.6L712.3 246.5L718.6 244.4L725 242.2L731.3 240.1L737.7 238L744 235.9L750.4 233.7L756.7 231.6L763.1 229.4L769.4 227.3L775.8 225.2L782.1 223.1L788.5 221L794.8 218.9L801.2 216.9L807.6 214.8L813.9 212.7L820.3 210.7L826.6 208.8L833 206.9L839.4 205.1L845.7 203.4L852.1 201.8L858.4 200.2L864.8 198.7L871.1 197.2L877.5 195.8L883.8 194.4L890.2 193.1L896.5 191.8L902.9 190.6L909.2 189.4L915.6 188.2L921.9 187.1L928.3 186L934.6 185L941 183.9L947.4 182.9L953.7 181.9L960.1 180.9L966.4 180L972.8 179.1L979.2 178.2L985.5 177.3L991.9 176.4L998.3 175.5L1004.6 174.6L1010.9 173.6L1017.3 172.7L1023.6 171.8L1030 171L1036.3 170.1L1042.7 169.3L1049 168.5L1055.4 167.8L1061.7 167.1L1068.1 166.5L1074.4 165.8L1080.8 165.2L1087.1 164.5L1093.5 163.8L1099.8 163.1L1106.2 162.3L1112.5 161.6L1118.9 160.8L1125.2 160L1131.6 159.3L1137.9 158.7L1144.3 158.1L1150.7 157.6L1157 157.1L1163.4 156.7L1169.7 156.3L1176.1 156L1182.5 155.7L1188.8 155.4L1195.2 155.1L1201.6 154.8L1207.9 154.5L1214.3 154.3L1220.6 154L1227 153.9L1233.3 153.7L1239.7 153.7L1246 153.8L1252.4 153.9L1258.7 154L1265.1 154.2L1271.5 154.4L1277.8 154.8L1284.2 155.4L1290.5 156.2L1296.8 157.3L1303.2 158.8L1309.7 160.6L1316.1 162.6L1322.4 164.8L1328.8 167.2L1335.1 169.8L1341.4 172.4L1347.7 175.1L1354.1 177.9L1360.6 180.9L1367 184L1373.4 187.2L1379.7 190.5L1386 194L1392.3 197.6L1398.5 201.4L1405 205.5L1411.5 209.8L1417.9 214.2L1424.3 218.8L1430.6 223.6L1436.9 228.5L1443.1 233.6L1449.3 238.9L1455.9 244.9L1462.4 251L1468.9 257.5L1475.3 264.1L1481.6 270.9L1487.9 277.9L1494.1 285L1500.2 292.3L1506.8 300.4L1513.4 308.6L1519.9 317L1526.3 325.6L1532.6 334.5L1538.8 343.7L1545 353.1L1551 362.9L1558 375.1L1565.1 388.5L1572.2 402.6L1579.1 416.9L1585.6 430.9L1591.7 444.2L1597.2 456.4L1601.8 466.8L1604 471.8L1606 476.4L1607.8 480.6L1609.5 484.6L1611 488.5L1612.5 492.3L1613.9 496.1L1615.2 500.1L1616.4 503.9L1617.5 507.7L1618.6 511.4L1619.6 515.2L1620.5 518.9L1621.3 522.7L1622 526.4L1622.7 530.2L1623.3 534L1623.7 537.8L1624.1 541.6L1624.4 545.5L1624.7 549.3L1624.9 553L1625 556.7L1625.2 560.2L1625.3 563.1L1625.3 566L1625.3 568.7L1625.3 571.5L1625.3 574.2L1625.2 576.9L1625.2 579.6L1625.2 582.3"/>
</g>
<path d="M232.6 1347.8L233.3 1342.6L234.1 1337.3L234.9 1332L235.6 1326.6L236.4 1321.4L237.1 1316.4L237.8 1311.7L238.5 1307.5L238.9 1305L239.3 1302.8L239.6 1300.8L240 1298.9L240.3 1296.9L240.7 1294.8L241.1 1292.6L241.6 1290L242.5 1285.1L243.4 1279.8L244.5 1274L245.6 1267.9L246.8 1261.3L248 1254.5L249.3 1247.3L250.7 1239.8L253.1 1226.8L255.9 1211.8L258.9 1195.5L262 1178.7L265.1 1162L268.1 1146L270.9 1131.4L273.2 1119L274.4 1112.9L275.4 1107.6L276.3 1102.7L277.2 1098.1L278.1 1093.6L279 1088.8L280 1083.5L281.1 1077.5L283.1 1066.4L285.1 1054.2L287.3 1041L289.6 1027L292.1 1012.6L294.6 997.9L297.3 983.1L300.2 968.6L303.6 952.4L307.2 936.2L311.1 919.9L315 903.2L319.1 886.2L323.4 868.7L327.7 850.6L332 831.7L337.7 806L343.7 778.8L349.9 750.4L356.2 721.2L362.7 691.7L369.1 662.2L375.6 633.1L382.1 604.8L388.5 577.4L395.3 549L402.3 520.3L409.3 491.9L416 464.6L422.3 439L428 415.9L432.8 395.8" fill="none" stroke="#808000" stroke-width="13.4"/>
<g stroke-linejoin="miter" stroke-linecap="butt">
<path d="M232.6 1328.8V1366.8M214.1 1329.3L251.1 1366.3M214.1 1366.3L251.1 1329.3M214.1 1347.8H251.1" fill="none" stroke="#808000" stroke-width="3.3"/>
<path d="M281.1 1058.5V1096.5M262.6 1059L299.6 1096M262.6 1096L299.6 1059M262.6 1077.5H299.6" fill="none" stroke="#808000" stroke-width="3.3"/>
<path d="M332 812.7V850.7M313.5 813.2L350.5 850.2M313.5 850.2L350.5 813.2M313.5 831.7H350.5" fill="none" stroke="#808000" stroke-width="3.3"/>
<path d="M382.1 585.8V623.8M363.6 586.3L400.6 623.3M363.6 623.3L400.6 586.3M363.6 604.8H400.6" fill="none" stroke="#808000" stroke-width="3.3"/>
<path d="M432.8 376.8V414.8M414.3 377.3L451.3 414.3M414.3 414.3L451.3 377.3M414.3 395.8H451.3" fill="none" stroke="#808000" stroke-width="3.3"/>
<path d="M483.4 311.6V349.6M464.9 312.1L501.9 349.1M464.9 349.1L501.9 312.1M464.9 330.6H501.9" fill="none" stroke="#808000" stroke-width="3.3"/>
<path d="M534.1 299.9V337.9M515.6 300.4L552.6 337.4M515.6 337.4L552.6 300.4M515.6 318.9H552.6" fill="none" stroke="#808000" stroke-width="3.3"/>
<path d="M584.9 276.2V314.2M566.4 276.7L603.4 313.7M566.4 313.7L603.4 276.7M566.4 295.2H603.4" fill="none" stroke="#808000" stroke-width="3.3"/>
<path d="M635.9 253.6V291.6M617.4 254.1L654.4 291.1M617.4 291.1L654.4 254.1M617.4 272.6H654.4" fill="none" stroke="#808000" stroke-width="3.3"/>
<path d="M686.8 236V274M668.3 236.5L705.3 273.5M668.3 273.5L705.3 236.5M668.3 255H705.3" fill="none" stroke="#808000" stroke-width="3.3"/>
<path d="M737.9 218.9V256.9M719.4 219.4L756.4 256.4M719.4 256.4L756.4 219.4M719.4 237.9H756.4" fill="none" stroke="#808000" stroke-width="3.3"/>
<path d="M789 201.8V239.8M770.5 202.3L807.5 239.3M770.5 239.3L807.5 202.3M770.5 220.8H807.5" fill="none" stroke="#808000" stroke-width="3.3"/>
<path d="M840.1 185.9V223.9M821.6 186.4L858.6 223.4M821.6 223.4L858.6 186.4M821.6 204.9H858.6" fill="none" stroke="#808000" stroke-width="3.3"/>
<path d="M891.2 173.9V211.9M872.7 174.4L909.7 211.4M872.7 211.4L909.7 174.4M872.7 192.9H909.7" fill="none" stroke="#808000" stroke-width="3.3"/>
<path d="M942.4 164.7V202.7M923.9 165.2L960.9 202.2M923.9 202.2L960.9 165.2M923.9 183.7H960.9" fill="none" stroke="#808000" stroke-width="3.3"/>
<path d="M993.5 157.2V195.2M975 157.7L1012 194.7M975 194.7L1012 157.7M975 176.2H1012" fill="none" stroke="#808000" stroke-width="3.3"/>
<path d="M1044.6 150.1V188.1M1026.1 150.6L1063.1 187.6M1026.1 187.6L1063.1 150.6M1026.1 169.1H1063.1" fill="none" stroke="#808000" stroke-width="3.3"/>
<path d="M1095.7 144.6V182.6M1077.2 145.1L1114.2 182.1M1077.2 182.1L1114.2 145.1M1077.2 163.6H1114.2" fill="none" stroke="#808000" stroke-width="3.3"/>
<path d="M1146.7 138.9V176.9M1128.2 139.4L1165.2 176.4M1128.2 176.4L1165.2 139.4M1128.2 157.9H1165.2" fill="none" stroke="#808000" stroke-width="3.3"/>
<path d="M1197.7 136V174M1179.2 136.5L1216.2 173.5M1179.2 173.5L1216.2 136.5M1179.2 155H1216.2" fill="none" stroke="#808000" stroke-width="3.3"/>
<path d="M1248.6 134.8V172.8M1230.1 135.3L1267.1 172.3M1230.1 172.3L1267.1 135.3M1230.1 153.8H1267.1" fill="none" stroke="#808000" stroke-width="3.3"/>
<path d="M1299.3 138.9V176.9M1280.8 139.4L1317.8 176.4M1280.8 176.4L1317.8 139.4M1280.8 157.9H1317.8" fill="none" stroke="#808000" stroke-width="3.3"/>
<path d="M1350 157.1V195.1M1331.5 157.6L1368.5 194.6M1331.5 194.6L1368.5 157.6M1331.5 176.1H1368.5" fill="none" stroke="#808000" stroke-width="3.3"/>
<path d="M1400.6 183.7V221.7M1382.1 184.2L1419.1 221.2M1382.1 221.2L1419.1 184.2M1382.1 202.7H1419.1" fill="none" stroke="#808000" stroke-width="3.3"/>
<path d="M1451 221.4V259.4M1432.5 221.9L1469.5 258.9M1432.5 258.9L1469.5 221.9M1432.5 240.4H1469.5" fill="none" stroke="#808000" stroke-width="3.3"/>
<path d="M1501.3 274.6V312.6M1482.8 275.1L1519.8 312.1M1482.8 312.1L1519.8 275.1M1482.8 293.6H1519.8" fill="none" stroke="#808000" stroke-width="3.3"/>
<path d="M1551.4 344.6V382.6M1532.9 345.1L1569.9 382.1M1532.9 382.1L1569.9 345.1M1532.9 363.6H1569.9" fill="none" stroke="#808000" stroke-width="3.3"/>
<path d="M1601.3 446.8V484.8M1582.8 447.3L1619.8 484.3M1582.8 484.3L1619.8 447.3M1582.8 465.8H1619.8" fill="none" stroke="#808000" stroke-width="3.3"/>
</g>
</g>
</svg>
<g shape-rendering="crispEdges">
<path d="M910.5 984.8H1062.8" fill="none" stroke="#000000" stroke-width="11" stroke-linecap="round"/>
<rect x="972.7" y="970.6" width="28.4" height="28.4" fill="#fff" stroke="#000000" stroke-width="3.3"/>
<text class="lg" x="1105.5" y="1007.6" style="letter-spacing:0.7px">In air</text>
<path d="M1363.5 984.8H1515.5" fill="none" stroke="#ff0000" stroke-width="11" stroke-linecap="round"/>
<circle cx="1438.9" cy="984.8" r="15.8" fill="#fff" stroke="#ff0000" stroke-width="3.3"/>
<text class="lg" x="1537" y="1007.6">0 <tspan dx="3">A</tspan><tspan dx="-3">/</tspan>m<tspan class="sp" dy="-38.4">2</tspan></text>
<path d="M910.5 1097.8H1062.8" fill="none" stroke="#0000ff" stroke-width="11" stroke-linecap="round"/>
<path d="M966.7 1097.8L986.9 1077.6L1007.1 1097.8L986.9 1118Z" fill="#fff" stroke="#0000ff" stroke-width="3.3"/>
<text class="lg" x="1083" y="1121.2">10 <tspan dx="3">A</tspan><tspan dx="-3">/</tspan>m<tspan class="sp" dy="-38.4">2</tspan></text>
<path d="M1367.5 1097.8H1519.3" fill="none" stroke="#008080" stroke-width="11" stroke-linecap="round"/>
<path d="M1424.8 1087L1461.6 1087L1443.2 1119.1Z" fill="#fff" stroke="#008080" stroke-width="3.3"/>
<text class="lg" x="1540.5" y="1121.2">30 <tspan dx="3">A</tspan><tspan dx="-3">/</tspan>m<tspan class="sp" dy="-38.4">2</tspan></text>
<path d="M910.5 1211.8H1062.8" fill="none" stroke="#ff00ff" stroke-width="11" stroke-linecap="round"/>
<path d="M986.9 1193.1L991.1 1206L1004.7 1206L993.7 1214L997.9 1226.9L986.9 1218.9L975.9 1226.9L980.1 1214L969.1 1206L982.7 1206Z" fill="#fff" stroke="#ff00ff" stroke-width="3.3" stroke-linejoin="round"/>
<text class="lg" x="1083" y="1234.4">50 <tspan dx="3">A</tspan><tspan dx="-3">/</tspan>m<tspan class="sp" dy="-38.4">2</tspan></text>
<path d="M1367.5 1211.8H1519.3" fill="none" stroke="#808000" stroke-width="11" stroke-linecap="round"/>
<path d="M1443.4 1192.8V1230.8M1424.9 1193.3L1461.9 1230.3M1424.9 1230.3L1461.9 1193.3M1424.9 1211.8H1461.9" fill="none" stroke="#808000" stroke-width="3.3"/>
<text class="lg" x="1540.5" y="1234.4">100 <tspan dx="3">A</tspan><tspan dx="-3">/</tspan>m<tspan class="sp" dy="-38.4">2</tspan></text>
</g>
</svg>
</body>
</html>
